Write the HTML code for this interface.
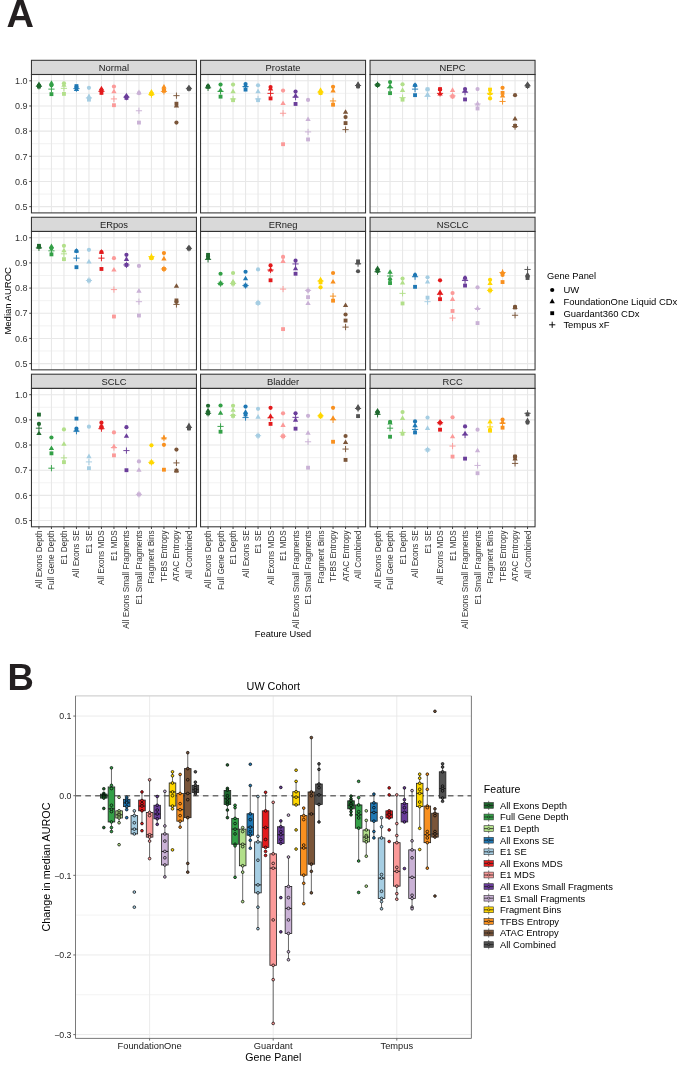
<!DOCTYPE html>
<html><head><meta charset="utf-8"><style>
html,body{margin:0;padding:0;background:#fff;}
svg{display:block;font-family:"Liberation Sans", sans-serif;will-change:transform;}
</style></head><body>
<svg width="685" height="1067" viewBox="0 0 685 1067">
<rect width="685" height="1067" fill="#fff"/>
<text x="6.6" y="26.6" font-size="38" font-weight="bold" fill="#231f20">A</text>
<rect x="31.45" y="74.5" width="165" height="138.4" fill="#fff"/>
<path d="M31.45 194.06H196.45M31.45 168.89H196.45M31.45 143.72H196.45M31.45 118.55H196.45M31.45 93.38H196.45" stroke="#ececec" stroke-width="0.7" fill="none"/>
<path d="M31.45 206.65H196.45M31.45 181.48H196.45M31.45 156.31H196.45M31.45 131.14H196.45M31.45 105.97H196.45M31.45 80.8H196.45M38.95 74.5V212.9M51.45 74.5V212.9M63.95 74.5V212.9M76.45 74.5V212.9M88.95 74.5V212.9M101.45 74.5V212.9M113.95 74.5V212.9M126.45 74.5V212.9M138.95 74.5V212.9M151.45 74.5V212.9M163.95 74.5V212.9M176.45 74.5V212.9M188.95 74.5V212.9" stroke="#e8e8e8" stroke-width="1.1" fill="none"/>
<circle cx="38.95" cy="85.58" r="2.1" fill="#20692f"/>
<path d="M38.95 81.52L36.3 86.11L41.6 86.11Z" fill="#20692f"/>
<rect x="37.03" y="84.66" width="3.85" height="3.85" fill="#20692f"/>
<path d="M35.85 86.34H42.05M38.95 83.24V89.44" stroke="#20692f" stroke-width="0.95" fill="none"/>
<circle cx="51.45" cy="85.33" r="2.1" fill="#33a047"/>
<path d="M51.45 80.26L48.8 84.85L54.1 84.85Z" fill="#33a047"/>
<rect x="49.53" y="92.22" width="3.85" height="3.85" fill="#33a047"/>
<path d="M48.35 89.11H54.55M51.45 86.01V92.21" stroke="#33a047" stroke-width="0.95" fill="none"/>
<circle cx="63.95" cy="83.32" r="2.1" fill="#b2df8a"/>
<path d="M63.95 82.27L61.3 86.86L66.6 86.86Z" fill="#b2df8a"/>
<rect x="62.03" y="91.96" width="3.85" height="3.85" fill="#b2df8a"/>
<path d="M60.85 88.35H67.05M63.95 85.25V91.45" stroke="#b2df8a" stroke-width="0.95" fill="none"/>
<circle cx="76.45" cy="87.09" r="2.1" fill="#1f78b4"/>
<path d="M76.45 86.3L73.8 90.89L79.1 90.89Z" fill="#1f78b4"/>
<rect x="74.53" y="84.16" width="3.85" height="3.85" fill="#1f78b4"/>
<path d="M73.35 88.6H79.55M76.45 85.5V91.7" stroke="#1f78b4" stroke-width="0.95" fill="none"/>
<circle cx="88.95" cy="87.85" r="2.1" fill="#a6cee3"/>
<path d="M88.95 93.6L86.3 98.19L91.6 98.19Z" fill="#a6cee3"/>
<rect x="87.03" y="97.75" width="3.85" height="3.85" fill="#a6cee3"/>
<path d="M85.85 97.92H92.05M88.95 94.82V101.02" stroke="#a6cee3" stroke-width="0.95" fill="none"/>
<circle cx="101.45" cy="90.11" r="2.1" fill="#e31a1c"/>
<path d="M101.45 85.79L98.8 90.38L104.1 90.38Z" fill="#e31a1c"/>
<rect x="99.53" y="90.96" width="3.85" height="3.85" fill="#e31a1c"/>
<path d="M98.35 91.37H104.55M101.45 88.27V94.47" stroke="#e31a1c" stroke-width="0.95" fill="none"/>
<circle cx="113.95" cy="86.59" r="2.1" fill="#fb9a99"/>
<path d="M113.95 88.56L111.3 93.15L116.6 93.15Z" fill="#fb9a99"/>
<rect x="112.03" y="103.29" width="3.85" height="3.85" fill="#fb9a99"/>
<path d="M110.85 98.92H117.05M113.95 95.82V102.02" stroke="#fb9a99" stroke-width="0.95" fill="none"/>
<circle cx="126.45" cy="96.66" r="2.1" fill="#6a3d9a"/>
<path d="M126.45 92.84L123.8 97.43L129.1 97.43Z" fill="#6a3d9a"/>
<rect x="124.53" y="95.99" width="3.85" height="3.85" fill="#6a3d9a"/>
<path d="M123.35 97.16H129.55M126.45 94.06V100.26" stroke="#6a3d9a" stroke-width="0.95" fill="none"/>
<circle cx="138.95" cy="93.13" r="2.1" fill="#cab2d6"/>
<path d="M138.95 89.57L136.3 94.16L141.6 94.16Z" fill="#cab2d6"/>
<rect x="137.02" y="120.66" width="3.85" height="3.85" fill="#cab2d6"/>
<path d="M135.85 110.75H142.05M138.95 107.65V113.85" stroke="#cab2d6" stroke-width="0.95" fill="none"/>
<circle cx="151.45" cy="93.89" r="2.1" fill="#ffd700"/>
<path d="M151.45 89.07L148.8 93.66L154.1 93.66Z" fill="#ffd700"/>
<rect x="149.52" y="91.96" width="3.85" height="3.85" fill="#ffd700"/>
<path d="M148.35 94.64H154.55M151.45 91.54V97.74" stroke="#ffd700" stroke-width="0.95" fill="none"/>
<circle cx="163.95" cy="89.61" r="2.1" fill="#f8901f"/>
<path d="M163.95 84.03L161.3 88.62L166.6 88.62Z" fill="#f8901f"/>
<rect x="162.02" y="88.94" width="3.85" height="3.85" fill="#f8901f"/>
<path d="M160.85 91.37H167.05M163.95 88.27V94.47" stroke="#f8901f" stroke-width="0.95" fill="none"/>
<circle cx="176.45" cy="122.58" r="2.1" fill="#7a5539"/>
<path d="M176.45 102.91L173.8 107.5L179.1 107.5Z" fill="#7a5539"/>
<rect x="174.52" y="101.78" width="3.85" height="3.85" fill="#7a5539"/>
<path d="M173.35 95.65H179.55M176.45 92.55V98.75" stroke="#7a5539" stroke-width="0.95" fill="none"/>
<circle cx="188.95" cy="88.35" r="2.1" fill="#525252"/>
<path d="M188.95 84.79L186.3 89.38L191.6 89.38Z" fill="#525252"/>
<rect x="187.02" y="86.93" width="3.85" height="3.85" fill="#525252"/>
<path d="M185.85 88.35H192.05M188.95 85.25V91.45" stroke="#525252" stroke-width="0.95" fill="none"/>
<rect x="31.45" y="60.3" width="165" height="14.2" fill="#d9d9d9" stroke="#333" stroke-width="1.05"/>
<text x="113.95" y="71.1" font-size="9.4" fill="#1a1a1a" text-anchor="middle">Normal</text>
<rect x="31.45" y="74.5" width="165" height="138.4" fill="none" stroke="#333" stroke-width="1.05"/>
<text x="27.4" y="209.85" font-size="9.0" fill="#333" text-anchor="end">0.5</text>
<text x="27.4" y="184.68" font-size="9.0" fill="#333" text-anchor="end">0.6</text>
<text x="27.4" y="159.51" font-size="9.0" fill="#333" text-anchor="end">0.7</text>
<text x="27.4" y="134.34" font-size="9.0" fill="#333" text-anchor="end">0.8</text>
<text x="27.4" y="109.17" font-size="9.0" fill="#333" text-anchor="end">0.9</text>
<text x="27.4" y="84" font-size="9.0" fill="#333" text-anchor="end">1.0</text>
<path d="M29.25 206.65H31.45M29.25 181.48H31.45M29.25 156.31H31.45M29.25 131.14H31.45M29.25 105.97H31.45M29.25 80.8H31.45" stroke="#333" stroke-width="0.9" fill="none"/>
<rect x="200.55" y="74.5" width="165" height="138.4" fill="#fff"/>
<path d="M200.55 194.06H365.55M200.55 168.89H365.55M200.55 143.72H365.55M200.55 118.55H365.55M200.55 93.38H365.55" stroke="#ececec" stroke-width="0.7" fill="none"/>
<path d="M200.55 206.65H365.55M200.55 181.48H365.55M200.55 156.31H365.55M200.55 131.14H365.55M200.55 105.97H365.55M200.55 80.8H365.55M208.05 74.5V212.9M220.55 74.5V212.9M233.05 74.5V212.9M245.55 74.5V212.9M258.05 74.5V212.9M270.55 74.5V212.9M283.05 74.5V212.9M295.55 74.5V212.9M308.05 74.5V212.9M320.55 74.5V212.9M333.05 74.5V212.9M345.55 74.5V212.9M358.05 74.5V212.9" stroke="#e8e8e8" stroke-width="1.1" fill="none"/>
<circle cx="208.05" cy="86.34" r="2.1" fill="#20692f"/>
<path d="M208.05 83.03L205.4 87.62L210.7 87.62Z" fill="#20692f"/>
<rect x="206.12" y="84.92" width="3.85" height="3.85" fill="#20692f"/>
<path d="M204.95 87.85H211.15M208.05 84.75V90.95" stroke="#20692f" stroke-width="0.95" fill="none"/>
<circle cx="220.55" cy="84.58" r="2.1" fill="#33a047"/>
<path d="M220.55 87.3L217.9 91.89L223.2 91.89Z" fill="#33a047"/>
<rect x="218.62" y="94.73" width="3.85" height="3.85" fill="#33a047"/>
<path d="M217.45 91.37H223.65M220.55 88.27V94.47" stroke="#33a047" stroke-width="0.95" fill="none"/>
<circle cx="233.05" cy="84.58" r="2.1" fill="#b2df8a"/>
<path d="M233.05 88.56L230.4 93.15L235.7 93.15Z" fill="#b2df8a"/>
<rect x="231.12" y="98.26" width="3.85" height="3.85" fill="#b2df8a"/>
<path d="M229.95 98.92H236.15M233.05 95.82V102.02" stroke="#b2df8a" stroke-width="0.95" fill="none"/>
<circle cx="245.55" cy="84.07" r="2.1" fill="#1f78b4"/>
<path d="M245.55 82.77L242.9 87.36L248.2 87.36Z" fill="#1f78b4"/>
<rect x="243.62" y="87.68" width="3.85" height="3.85" fill="#1f78b4"/>
<path d="M242.45 86.59H248.65M245.55 83.49V89.69" stroke="#1f78b4" stroke-width="0.95" fill="none"/>
<circle cx="258.05" cy="85.33" r="2.1" fill="#a6cee3"/>
<path d="M258.05 88.56L255.4 93.15L260.7 93.15Z" fill="#a6cee3"/>
<rect x="256.12" y="98.26" width="3.85" height="3.85" fill="#a6cee3"/>
<path d="M254.95 98.92H261.15M258.05 95.82V102.02" stroke="#a6cee3" stroke-width="0.95" fill="none"/>
<circle cx="270.55" cy="87.09" r="2.1" fill="#e31a1c"/>
<path d="M270.55 85.79L267.9 90.38L273.2 90.38Z" fill="#e31a1c"/>
<rect x="268.62" y="96.49" width="3.85" height="3.85" fill="#e31a1c"/>
<path d="M267.45 93.39H273.65M270.55 90.29V96.48" stroke="#e31a1c" stroke-width="0.95" fill="none"/>
<circle cx="283.05" cy="90.62" r="2.1" fill="#fb9a99"/>
<path d="M283.05 100.39L280.4 104.98L285.7 104.98Z" fill="#fb9a99"/>
<rect x="281.12" y="142.3" width="3.85" height="3.85" fill="#fb9a99"/>
<path d="M279.95 113.27H286.15M283.05 110.17V116.37" stroke="#fb9a99" stroke-width="0.95" fill="none"/>
<circle cx="295.55" cy="91.62" r="2.1" fill="#6a3d9a"/>
<path d="M295.55 92.84L292.9 97.43L298.2 97.43Z" fill="#6a3d9a"/>
<rect x="293.62" y="102.03" width="3.85" height="3.85" fill="#6a3d9a"/>
<path d="M292.45 97.16H298.65M295.55 94.06V100.26" stroke="#6a3d9a" stroke-width="0.95" fill="none"/>
<circle cx="308.05" cy="99.93" r="2.1" fill="#cab2d6"/>
<path d="M308.05 116.5L305.4 121.09L310.7 121.09Z" fill="#cab2d6"/>
<rect x="306.12" y="137.52" width="3.85" height="3.85" fill="#cab2d6"/>
<path d="M304.95 131.9H311.15M308.05 128.8V135" stroke="#cab2d6" stroke-width="0.95" fill="none"/>
<circle cx="320.55" cy="92.88" r="2.1" fill="#ffd700"/>
<path d="M320.55 87.3L317.9 91.89L323.2 91.89Z" fill="#ffd700"/>
<rect x="318.62" y="90.96" width="3.85" height="3.85" fill="#ffd700"/>
<path d="M317.45 92.13H323.65M320.55 89.03V95.23" stroke="#ffd700" stroke-width="0.95" fill="none"/>
<circle cx="333.05" cy="86.84" r="2.1" fill="#f8901f"/>
<path d="M333.05 87.81L330.4 92.4L335.7 92.4Z" fill="#f8901f"/>
<rect x="331.12" y="102.79" width="3.85" height="3.85" fill="#f8901f"/>
<path d="M329.95 100.94H336.15M333.05 97.84V104.04" stroke="#f8901f" stroke-width="0.95" fill="none"/>
<circle cx="345.55" cy="117.04" r="2.1" fill="#7a5539"/>
<path d="M345.55 109.2L342.9 113.79L348.2 113.79Z" fill="#7a5539"/>
<rect x="343.62" y="121.16" width="3.85" height="3.85" fill="#7a5539"/>
<path d="M342.45 129.63H348.65M345.55 126.53V132.73" stroke="#7a5539" stroke-width="0.95" fill="none"/>
<circle cx="358.05" cy="85.58" r="2.1" fill="#525252"/>
<path d="M358.05 81.26L355.4 85.85L360.7 85.85Z" fill="#525252"/>
<rect x="356.12" y="84.41" width="3.85" height="3.85" fill="#525252"/>
<path d="M354.95 85.58H361.15M358.05 82.48V88.68" stroke="#525252" stroke-width="0.95" fill="none"/>
<rect x="200.55" y="60.3" width="165" height="14.2" fill="#d9d9d9" stroke="#333" stroke-width="1.05"/>
<text x="283.05" y="71.1" font-size="9.4" fill="#1a1a1a" text-anchor="middle">Prostate</text>
<rect x="200.55" y="74.5" width="165" height="138.4" fill="none" stroke="#333" stroke-width="1.05"/>
<rect x="370.05" y="74.5" width="165" height="138.4" fill="#fff"/>
<path d="M370.05 194.06H535.05M370.05 168.89H535.05M370.05 143.72H535.05M370.05 118.55H535.05M370.05 93.38H535.05" stroke="#ececec" stroke-width="0.7" fill="none"/>
<path d="M370.05 206.65H535.05M370.05 181.48H535.05M370.05 156.31H535.05M370.05 131.14H535.05M370.05 105.97H535.05M370.05 80.8H535.05M377.55 74.5V212.9M390.05 74.5V212.9M402.55 74.5V212.9M415.05 74.5V212.9M427.55 74.5V212.9M440.05 74.5V212.9M452.55 74.5V212.9M465.05 74.5V212.9M477.55 74.5V212.9M490.05 74.5V212.9M502.55 74.5V212.9M515.05 74.5V212.9M527.55 74.5V212.9" stroke="#e8e8e8" stroke-width="1.1" fill="none"/>
<circle cx="377.55" cy="84.83" r="2.1" fill="#20692f"/>
<path d="M377.55 81.52L374.9 86.11L380.2 86.11Z" fill="#20692f"/>
<rect x="375.62" y="83.15" width="3.85" height="3.85" fill="#20692f"/>
<path d="M374.45 84.83H380.65M377.55 81.73V87.93" stroke="#20692f" stroke-width="0.95" fill="none"/>
<circle cx="390.05" cy="82.06" r="2.1" fill="#33a047"/>
<path d="M390.05 83.53L387.4 88.12L392.7 88.12Z" fill="#33a047"/>
<rect x="388.12" y="91.21" width="3.85" height="3.85" fill="#33a047"/>
<path d="M386.95 87.85H393.15M390.05 84.75V90.95" stroke="#33a047" stroke-width="0.95" fill="none"/>
<circle cx="402.55" cy="84.32" r="2.1" fill="#b2df8a"/>
<path d="M402.55 87.3L399.9 91.89L405.2 91.89Z" fill="#b2df8a"/>
<rect x="400.62" y="97.75" width="3.85" height="3.85" fill="#b2df8a"/>
<path d="M399.45 97.66H405.65M402.55 94.56V100.76" stroke="#b2df8a" stroke-width="0.95" fill="none"/>
<circle cx="415.05" cy="85.33" r="2.1" fill="#1f78b4"/>
<path d="M415.05 82.27L412.4 86.86L417.7 86.86Z" fill="#1f78b4"/>
<rect x="413.12" y="93.22" width="3.85" height="3.85" fill="#1f78b4"/>
<path d="M411.95 89.11H418.15M415.05 86.01V92.21" stroke="#1f78b4" stroke-width="0.95" fill="none"/>
<circle cx="427.55" cy="89.36" r="2.1" fill="#a6cee3"/>
<path d="M427.55 91.58L424.9 96.17L430.2 96.17Z" fill="#a6cee3"/>
<rect x="425.62" y="87.43" width="3.85" height="3.85" fill="#a6cee3"/>
<path d="M424.45 96.41H430.65M427.55 93.31V99.51" stroke="#a6cee3" stroke-width="0.95" fill="none"/>
<circle cx="440.05" cy="89.61" r="2.1" fill="#e31a1c"/>
<path d="M440.05 90.83L437.4 95.42L442.7 95.42Z" fill="#e31a1c"/>
<rect x="438.12" y="87.18" width="3.85" height="3.85" fill="#e31a1c"/>
<path d="M436.95 93.39H443.15M440.05 90.29V96.48" stroke="#e31a1c" stroke-width="0.95" fill="none"/>
<circle cx="452.55" cy="96.41" r="2.1" fill="#fb9a99"/>
<path d="M452.55 87.3L449.9 91.89L455.2 91.89Z" fill="#fb9a99"/>
<rect x="450.62" y="94.48" width="3.85" height="3.85" fill="#fb9a99"/>
<path d="M449.45 95.9H455.65M452.55 92.8V99" stroke="#fb9a99" stroke-width="0.95" fill="none"/>
<circle cx="465.05" cy="89.11" r="2.1" fill="#6a3d9a"/>
<path d="M465.05 87.81L462.4 92.4L467.7 92.4Z" fill="#6a3d9a"/>
<rect x="463.12" y="97.5" width="3.85" height="3.85" fill="#6a3d9a"/>
<path d="M461.95 92.13H468.15M465.05 89.03V95.23" stroke="#6a3d9a" stroke-width="0.95" fill="none"/>
<circle cx="477.55" cy="89.11" r="2.1" fill="#cab2d6"/>
<path d="M477.55 100.9L474.9 105.49L480.2 105.49Z" fill="#cab2d6"/>
<rect x="475.62" y="106.56" width="3.85" height="3.85" fill="#cab2d6"/>
<path d="M474.45 103.96H480.65M477.55 100.86V107.06" stroke="#cab2d6" stroke-width="0.95" fill="none"/>
<circle cx="490.05" cy="98.42" r="2.1" fill="#ffd700"/>
<path d="M490.05 90.33L487.4 94.91L492.7 94.91Z" fill="#ffd700"/>
<rect x="488.12" y="87.68" width="3.85" height="3.85" fill="#ffd700"/>
<path d="M486.95 93.39H493.15M490.05 90.29V96.48" stroke="#ffd700" stroke-width="0.95" fill="none"/>
<circle cx="502.55" cy="87.85" r="2.1" fill="#f8901f"/>
<path d="M502.55 92.84L499.9 97.43L505.2 97.43Z" fill="#f8901f"/>
<rect x="500.62" y="90.96" width="3.85" height="3.85" fill="#f8901f"/>
<path d="M499.45 101.44H505.65M502.55 98.34V104.54" stroke="#f8901f" stroke-width="0.95" fill="none"/>
<circle cx="515.05" cy="95.15" r="2.1" fill="#7a5539"/>
<path d="M515.05 116L512.4 120.59L517.7 120.59Z" fill="#7a5539"/>
<rect x="513.12" y="123.93" width="3.85" height="3.85" fill="#7a5539"/>
<path d="M511.95 126.61H518.15M515.05 123.51V129.71" stroke="#7a5539" stroke-width="0.95" fill="none"/>
<circle cx="527.55" cy="85.33" r="2.1" fill="#525252"/>
<path d="M527.55 81.26L524.9 85.85L530.2 85.85Z" fill="#525252"/>
<rect x="525.62" y="84.16" width="3.85" height="3.85" fill="#525252"/>
<path d="M524.45 85.83H530.65M527.55 82.73V88.93" stroke="#525252" stroke-width="0.95" fill="none"/>
<rect x="370.05" y="60.3" width="165" height="14.2" fill="#d9d9d9" stroke="#333" stroke-width="1.05"/>
<text x="452.55" y="71.1" font-size="9.4" fill="#1a1a1a" text-anchor="middle">NEPC</text>
<rect x="370.05" y="74.5" width="165" height="138.4" fill="none" stroke="#333" stroke-width="1.05"/>
<rect x="31.45" y="231.45" width="165" height="138.4" fill="#fff"/>
<path d="M31.45 351.01H196.45M31.45 325.84H196.45M31.45 300.68H196.45M31.45 275.5H196.45M31.45 250.33H196.45" stroke="#ececec" stroke-width="0.7" fill="none"/>
<path d="M31.45 363.6H196.45M31.45 338.43H196.45M31.45 313.26H196.45M31.45 288.09H196.45M31.45 262.92H196.45M31.45 237.75H196.45M38.95 231.45V369.85M51.45 231.45V369.85M63.95 231.45V369.85M76.45 231.45V369.85M88.95 231.45V369.85M101.45 231.45V369.85M113.95 231.45V369.85M126.45 231.45V369.85M138.95 231.45V369.85M151.45 231.45V369.85M163.95 231.45V369.85M176.45 231.45V369.85M188.95 231.45V369.85" stroke="#e8e8e8" stroke-width="1.1" fill="none"/>
<circle cx="38.95" cy="246.56" r="2.1" fill="#20692f"/>
<path d="M38.95 244.25L36.3 248.84L41.6 248.84Z" fill="#20692f"/>
<rect x="37.03" y="243.88" width="3.85" height="3.85" fill="#20692f"/>
<path d="M35.85 247.82H42.05M38.95 244.72V250.92" stroke="#20692f" stroke-width="0.95" fill="none"/>
<circle cx="51.45" cy="248.32" r="2.1" fill="#33a047"/>
<path d="M51.45 243.5L48.8 248.09L54.1 248.09Z" fill="#33a047"/>
<rect x="49.53" y="252.44" width="3.85" height="3.85" fill="#33a047"/>
<path d="M48.35 250.84H54.55M51.45 247.74V253.94" stroke="#33a047" stroke-width="0.95" fill="none"/>
<circle cx="63.95" cy="245.8" r="2.1" fill="#b2df8a"/>
<path d="M63.95 247.78L61.3 252.37L66.6 252.37Z" fill="#b2df8a"/>
<rect x="62.03" y="257.22" width="3.85" height="3.85" fill="#b2df8a"/>
<path d="M60.85 253.86H67.05M63.95 250.76V256.96" stroke="#b2df8a" stroke-width="0.95" fill="none"/>
<circle cx="76.45" cy="251.09" r="2.1" fill="#1f78b4"/>
<path d="M76.45 248.03L73.8 252.62L79.1 252.62Z" fill="#1f78b4"/>
<rect x="74.53" y="265.27" width="3.85" height="3.85" fill="#1f78b4"/>
<path d="M73.35 258.14H79.55M76.45 255.04V261.24" stroke="#1f78b4" stroke-width="0.95" fill="none"/>
<circle cx="88.95" cy="249.83" r="2.1" fill="#a6cee3"/>
<path d="M88.95 258.85L86.3 263.44L91.6 263.44Z" fill="#a6cee3"/>
<rect x="87.03" y="278.61" width="3.85" height="3.85" fill="#a6cee3"/>
<path d="M85.85 280.54H92.05M88.95 277.44V283.64" stroke="#a6cee3" stroke-width="0.95" fill="none"/>
<circle cx="101.45" cy="252.1" r="2.1" fill="#e31a1c"/>
<path d="M101.45 249.04L98.8 253.63L104.1 253.63Z" fill="#e31a1c"/>
<rect x="99.53" y="267.04" width="3.85" height="3.85" fill="#e31a1c"/>
<path d="M98.35 258.14H104.55M101.45 255.04V261.24" stroke="#e31a1c" stroke-width="0.95" fill="none"/>
<circle cx="113.95" cy="258.14" r="2.1" fill="#fb9a99"/>
<path d="M113.95 266.91L111.3 271.5L116.6 271.5Z" fill="#fb9a99"/>
<rect x="112.03" y="314.61" width="3.85" height="3.85" fill="#fb9a99"/>
<path d="M110.85 289.6H117.05M113.95 286.5V292.7" stroke="#fb9a99" stroke-width="0.95" fill="none"/>
<circle cx="126.45" cy="254.87" r="2.1" fill="#6a3d9a"/>
<path d="M126.45 256.34L123.8 260.93L129.1 260.93Z" fill="#6a3d9a"/>
<rect x="124.53" y="263.01" width="3.85" height="3.85" fill="#6a3d9a"/>
<path d="M123.35 264.93H129.55M126.45 261.83V268.03" stroke="#6a3d9a" stroke-width="0.95" fill="none"/>
<circle cx="138.95" cy="265.94" r="2.1" fill="#cab2d6"/>
<path d="M138.95 288.05L136.3 292.64L141.6 292.64Z" fill="#cab2d6"/>
<rect x="137.02" y="313.6" width="3.85" height="3.85" fill="#cab2d6"/>
<path d="M135.85 301.68H142.05M138.95 298.58V304.78" stroke="#cab2d6" stroke-width="0.95" fill="none"/>
<circle cx="151.45" cy="258.14" r="2.1" fill="#ffd700"/>
<path d="M151.45 253.57L148.8 258.16L154.1 258.16Z" fill="#ffd700"/>
<rect x="149.52" y="256.21" width="3.85" height="3.85" fill="#ffd700"/>
<path d="M148.35 256.63H154.55M151.45 253.53V259.73" stroke="#ffd700" stroke-width="0.95" fill="none"/>
<circle cx="163.95" cy="253.1" r="2.1" fill="#f8901f"/>
<path d="M163.95 255.83L161.3 260.42L166.6 260.42Z" fill="#f8901f"/>
<rect x="162.02" y="267.04" width="3.85" height="3.85" fill="#f8901f"/>
<path d="M160.85 268.96H167.05M163.95 265.86V272.06" stroke="#f8901f" stroke-width="0.95" fill="none"/>
<circle cx="176.45" cy="301.93" r="2.1" fill="#7a5539"/>
<path d="M176.45 283.27L173.8 287.86L179.1 287.86Z" fill="#7a5539"/>
<rect x="174.52" y="298.5" width="3.85" height="3.85" fill="#7a5539"/>
<path d="M173.35 304.45H179.55M176.45 301.35V307.55" stroke="#7a5539" stroke-width="0.95" fill="none"/>
<circle cx="188.95" cy="248.32" r="2.1" fill="#525252"/>
<path d="M188.95 244.76L186.3 249.35L191.6 249.35Z" fill="#525252"/>
<rect x="187.02" y="246.65" width="3.85" height="3.85" fill="#525252"/>
<path d="M185.85 248.32H192.05M188.95 245.22V251.42" stroke="#525252" stroke-width="0.95" fill="none"/>
<rect x="31.45" y="217.25" width="165" height="14.2" fill="#d9d9d9" stroke="#333" stroke-width="1.05"/>
<text x="113.95" y="228.05" font-size="9.4" fill="#1a1a1a" text-anchor="middle">ERpos</text>
<rect x="31.45" y="231.45" width="165" height="138.4" fill="none" stroke="#333" stroke-width="1.05"/>
<text x="27.4" y="366.8" font-size="9.0" fill="#333" text-anchor="end">0.5</text>
<text x="27.4" y="341.63" font-size="9.0" fill="#333" text-anchor="end">0.6</text>
<text x="27.4" y="316.46" font-size="9.0" fill="#333" text-anchor="end">0.7</text>
<text x="27.4" y="291.29" font-size="9.0" fill="#333" text-anchor="end">0.8</text>
<text x="27.4" y="266.12" font-size="9.0" fill="#333" text-anchor="end">0.9</text>
<text x="27.4" y="240.95" font-size="9.0" fill="#333" text-anchor="end">1.0</text>
<path d="M29.25 363.6H31.45M29.25 338.43H31.45M29.25 313.26H31.45M29.25 288.09H31.45M29.25 262.92H31.45M29.25 237.75H31.45" stroke="#333" stroke-width="0.9" fill="none"/>
<rect x="200.55" y="231.45" width="165" height="138.4" fill="#fff"/>
<path d="M200.55 351.01H365.55M200.55 325.84H365.55M200.55 300.68H365.55M200.55 275.5H365.55M200.55 250.33H365.55" stroke="#ececec" stroke-width="0.7" fill="none"/>
<path d="M200.55 363.6H365.55M200.55 338.43H365.55M200.55 313.26H365.55M200.55 288.09H365.55M200.55 262.92H365.55M200.55 237.75H365.55M208.05 231.45V369.85M220.55 231.45V369.85M233.05 231.45V369.85M245.55 231.45V369.85M258.05 231.45V369.85M270.55 231.45V369.85M283.05 231.45V369.85M295.55 231.45V369.85M308.05 231.45V369.85M320.55 231.45V369.85M333.05 231.45V369.85M345.55 231.45V369.85M358.05 231.45V369.85" stroke="#e8e8e8" stroke-width="1.1" fill="none"/>
<circle cx="208.05" cy="256.63" r="2.1" fill="#20692f"/>
<path d="M208.05 254.83L205.4 259.42L210.7 259.42Z" fill="#20692f"/>
<rect x="206.12" y="252.94" width="3.85" height="3.85" fill="#20692f"/>
<path d="M204.95 259.4H211.15M208.05 256.3V262.5" stroke="#20692f" stroke-width="0.95" fill="none"/>
<circle cx="220.55" cy="273.74" r="2.1" fill="#33a047"/>
<path d="M220.55 280.5L217.9 285.09L223.2 285.09Z" fill="#33a047"/>
<rect x="218.62" y="281.63" width="3.85" height="3.85" fill="#33a047"/>
<path d="M217.45 283.56H223.65M220.55 280.46V286.66" stroke="#33a047" stroke-width="0.95" fill="none"/>
<circle cx="233.05" cy="272.99" r="2.1" fill="#b2df8a"/>
<path d="M233.05 278.74L230.4 283.33L235.7 283.33Z" fill="#b2df8a"/>
<rect x="231.12" y="281.63" width="3.85" height="3.85" fill="#b2df8a"/>
<path d="M229.95 283.56H236.15M233.05 280.46V286.66" stroke="#b2df8a" stroke-width="0.95" fill="none"/>
<circle cx="245.55" cy="271.73" r="2.1" fill="#1f78b4"/>
<path d="M245.55 275.72L242.9 280.31L248.2 280.31Z" fill="#1f78b4"/>
<rect x="243.62" y="283.65" width="3.85" height="3.85" fill="#1f78b4"/>
<path d="M242.45 285.57H248.65M245.55 282.47V288.67" stroke="#1f78b4" stroke-width="0.95" fill="none"/>
<circle cx="258.05" cy="269.46" r="2.1" fill="#a6cee3"/>
<path d="M258.05 299.88L255.4 304.47L260.7 304.47Z" fill="#a6cee3"/>
<rect x="256.12" y="301.02" width="3.85" height="3.85" fill="#a6cee3"/>
<path d="M254.95 302.94H261.15M258.05 299.84V306.04" stroke="#a6cee3" stroke-width="0.95" fill="none"/>
<circle cx="270.55" cy="265.44" r="2.1" fill="#e31a1c"/>
<path d="M270.55 266.91L267.9 271.5L273.2 271.5Z" fill="#e31a1c"/>
<rect x="268.62" y="278.36" width="3.85" height="3.85" fill="#e31a1c"/>
<path d="M267.45 269.97H273.65M270.55 266.87V273.07" stroke="#e31a1c" stroke-width="0.95" fill="none"/>
<circle cx="283.05" cy="256.88" r="2.1" fill="#fb9a99"/>
<path d="M283.05 258.35L280.4 262.94L285.7 262.94Z" fill="#fb9a99"/>
<rect x="281.12" y="327.19" width="3.85" height="3.85" fill="#fb9a99"/>
<path d="M279.95 289.1H286.15M283.05 286V292.2" stroke="#fb9a99" stroke-width="0.95" fill="none"/>
<circle cx="295.55" cy="260.65" r="2.1" fill="#6a3d9a"/>
<path d="M295.55 265.65L292.9 270.24L298.2 270.24Z" fill="#6a3d9a"/>
<rect x="293.62" y="271.82" width="3.85" height="3.85" fill="#6a3d9a"/>
<path d="M292.45 263.93H298.65M295.55 260.83V267.03" stroke="#6a3d9a" stroke-width="0.95" fill="none"/>
<circle cx="308.05" cy="290.61" r="2.1" fill="#cab2d6"/>
<path d="M308.05 300.38L305.4 304.97L310.7 304.97Z" fill="#cab2d6"/>
<rect x="306.12" y="295.23" width="3.85" height="3.85" fill="#cab2d6"/>
<path d="M304.95 290.36H311.15M308.05 287.26V293.46" stroke="#cab2d6" stroke-width="0.95" fill="none"/>
<circle cx="320.55" cy="287.33" r="2.1" fill="#ffd700"/>
<path d="M320.55 276.72L317.9 281.31L323.2 281.31Z" fill="#ffd700"/>
<rect x="318.62" y="280.38" width="3.85" height="3.85" fill="#ffd700"/>
<path d="M317.45 281.04H323.65M320.55 277.94V284.14" stroke="#ffd700" stroke-width="0.95" fill="none"/>
<circle cx="333.05" cy="272.99" r="2.1" fill="#f8901f"/>
<path d="M333.05 278.99L330.4 283.58L335.7 283.58Z" fill="#f8901f"/>
<rect x="331.12" y="298.75" width="3.85" height="3.85" fill="#f8901f"/>
<path d="M329.95 296.14H336.15M333.05 293.04V299.24" stroke="#f8901f" stroke-width="0.95" fill="none"/>
<circle cx="345.55" cy="314.52" r="2.1" fill="#7a5539"/>
<path d="M345.55 302.4L342.9 306.99L348.2 306.99Z" fill="#7a5539"/>
<rect x="343.62" y="318.63" width="3.85" height="3.85" fill="#7a5539"/>
<path d="M342.45 327.1H348.65M345.55 324V330.2" stroke="#7a5539" stroke-width="0.95" fill="none"/>
<circle cx="358.05" cy="271.23" r="2.1" fill="#525252"/>
<path d="M358.05 259.86L355.4 264.45L360.7 264.45Z" fill="#525252"/>
<rect x="356.12" y="259.48" width="3.85" height="3.85" fill="#525252"/>
<path d="M354.95 263.68H361.15M358.05 260.58V266.78" stroke="#525252" stroke-width="0.95" fill="none"/>
<rect x="200.55" y="217.25" width="165" height="14.2" fill="#d9d9d9" stroke="#333" stroke-width="1.05"/>
<text x="283.05" y="228.05" font-size="9.4" fill="#1a1a1a" text-anchor="middle">ERneg</text>
<rect x="200.55" y="231.45" width="165" height="138.4" fill="none" stroke="#333" stroke-width="1.05"/>
<rect x="370.05" y="231.45" width="165" height="138.4" fill="#fff"/>
<path d="M370.05 351.01H535.05M370.05 325.84H535.05M370.05 300.68H535.05M370.05 275.5H535.05M370.05 250.33H535.05" stroke="#ececec" stroke-width="0.7" fill="none"/>
<path d="M370.05 363.6H535.05M370.05 338.43H535.05M370.05 313.26H535.05M370.05 288.09H535.05M370.05 262.92H535.05M370.05 237.75H535.05M377.55 231.45V369.85M390.05 231.45V369.85M402.55 231.45V369.85M415.05 231.45V369.85M427.55 231.45V369.85M440.05 231.45V369.85M452.55 231.45V369.85M465.05 231.45V369.85M477.55 231.45V369.85M490.05 231.45V369.85M502.55 231.45V369.85M515.05 231.45V369.85M527.55 231.45V369.85" stroke="#e8e8e8" stroke-width="1.1" fill="none"/>
<circle cx="377.55" cy="270.97" r="2.1" fill="#20692f"/>
<path d="M377.55 265.4L374.9 269.99L380.2 269.99Z" fill="#20692f"/>
<rect x="375.62" y="268.55" width="3.85" height="3.85" fill="#20692f"/>
<path d="M374.45 271.73H380.65M377.55 268.63V274.83" stroke="#20692f" stroke-width="0.95" fill="none"/>
<circle cx="390.05" cy="279.28" r="2.1" fill="#33a047"/>
<path d="M390.05 269.17L387.4 273.76L392.7 273.76Z" fill="#33a047"/>
<rect x="388.12" y="281.13" width="3.85" height="3.85" fill="#33a047"/>
<path d="M386.95 276.01H393.15M390.05 272.91V279.11" stroke="#33a047" stroke-width="0.95" fill="none"/>
<circle cx="402.55" cy="278.53" r="2.1" fill="#b2df8a"/>
<path d="M402.55 280L399.9 284.59L405.2 284.59Z" fill="#b2df8a"/>
<rect x="400.62" y="301.52" width="3.85" height="3.85" fill="#b2df8a"/>
<path d="M399.45 293.38H405.65M402.55 290.28V296.48" stroke="#b2df8a" stroke-width="0.95" fill="none"/>
<circle cx="415.05" cy="275" r="2.1" fill="#1f78b4"/>
<path d="M415.05 271.94L412.4 276.53L417.7 276.53Z" fill="#1f78b4"/>
<rect x="413.12" y="284.91" width="3.85" height="3.85" fill="#1f78b4"/>
<path d="M411.95 276.76H418.15M415.05 273.66V279.86" stroke="#1f78b4" stroke-width="0.95" fill="none"/>
<circle cx="427.55" cy="277.27" r="2.1" fill="#a6cee3"/>
<path d="M427.55 278.99L424.9 283.58L430.2 283.58Z" fill="#a6cee3"/>
<rect x="425.62" y="295.73" width="3.85" height="3.85" fill="#a6cee3"/>
<path d="M424.45 301.68H430.65M427.55 298.58V304.78" stroke="#a6cee3" stroke-width="0.95" fill="none"/>
<circle cx="440.05" cy="280.29" r="2.1" fill="#e31a1c"/>
<path d="M440.05 289.31L437.4 293.9L442.7 293.9Z" fill="#e31a1c"/>
<rect x="438.12" y="297.24" width="3.85" height="3.85" fill="#e31a1c"/>
<path d="M436.95 294.38H443.15M440.05 291.28V297.48" stroke="#e31a1c" stroke-width="0.95" fill="none"/>
<circle cx="452.55" cy="293.12" r="2.1" fill="#fb9a99"/>
<path d="M452.55 296.36L449.9 300.95L455.2 300.95Z" fill="#fb9a99"/>
<rect x="450.62" y="309.07" width="3.85" height="3.85" fill="#fb9a99"/>
<path d="M449.45 318.04H455.65M452.55 314.94V321.14" stroke="#fb9a99" stroke-width="0.95" fill="none"/>
<circle cx="465.05" cy="278.02" r="2.1" fill="#6a3d9a"/>
<path d="M465.05 274.96L462.4 279.55L467.7 279.55Z" fill="#6a3d9a"/>
<rect x="463.12" y="283.65" width="3.85" height="3.85" fill="#6a3d9a"/>
<path d="M461.95 280.54H468.15M465.05 277.44V283.64" stroke="#6a3d9a" stroke-width="0.95" fill="none"/>
<circle cx="477.55" cy="287.33" r="2.1" fill="#cab2d6"/>
<path d="M477.55 305.42L474.9 310.01L480.2 310.01Z" fill="#cab2d6"/>
<rect x="475.62" y="321.15" width="3.85" height="3.85" fill="#cab2d6"/>
<path d="M474.45 308.48H480.65M477.55 305.38V311.58" stroke="#cab2d6" stroke-width="0.95" fill="none"/>
<circle cx="490.05" cy="279.78" r="2.1" fill="#ffd700"/>
<path d="M490.05 280.5L487.4 285.09L492.7 285.09Z" fill="#ffd700"/>
<rect x="488.12" y="288.43" width="3.85" height="3.85" fill="#ffd700"/>
<path d="M486.95 290.36H493.15M490.05 287.26V293.46" stroke="#ffd700" stroke-width="0.95" fill="none"/>
<circle cx="502.55" cy="275" r="2.1" fill="#f8901f"/>
<path d="M502.55 269.42L499.9 274.01L505.2 274.01Z" fill="#f8901f"/>
<rect x="500.62" y="280.12" width="3.85" height="3.85" fill="#f8901f"/>
<path d="M499.45 272.48H505.65M502.55 269.38V275.58" stroke="#f8901f" stroke-width="0.95" fill="none"/>
<circle cx="515.05" cy="306.97" r="2.1" fill="#7a5539"/>
<path d="M515.05 304.41L512.4 309L517.7 309Z" fill="#7a5539"/>
<rect x="513.12" y="305.55" width="3.85" height="3.85" fill="#7a5539"/>
<path d="M511.95 315.27H518.15M515.05 312.17V318.37" stroke="#7a5539" stroke-width="0.95" fill="none"/>
<circle cx="527.55" cy="276.51" r="2.1" fill="#525252"/>
<path d="M527.55 271.69L524.9 276.28L530.2 276.28Z" fill="#525252"/>
<rect x="525.62" y="276.1" width="3.85" height="3.85" fill="#525252"/>
<path d="M524.45 269.46H530.65M527.55 266.36V272.56" stroke="#525252" stroke-width="0.95" fill="none"/>
<rect x="370.05" y="217.25" width="165" height="14.2" fill="#d9d9d9" stroke="#333" stroke-width="1.05"/>
<text x="452.55" y="228.05" font-size="9.4" fill="#1a1a1a" text-anchor="middle">NSCLC</text>
<rect x="370.05" y="231.45" width="165" height="138.4" fill="none" stroke="#333" stroke-width="1.05"/>
<rect x="31.45" y="388.4" width="165" height="138.4" fill="#fff"/>
<path d="M31.45 507.96H196.45M31.45 482.79H196.45M31.45 457.62H196.45M31.45 432.45H196.45M31.45 407.28H196.45" stroke="#ececec" stroke-width="0.7" fill="none"/>
<path d="M31.45 520.55H196.45M31.45 495.38H196.45M31.45 470.21H196.45M31.45 445.04H196.45M31.45 419.87H196.45M31.45 394.7H196.45M38.95 388.4V526.8M51.45 388.4V526.8M63.95 388.4V526.8M76.45 388.4V526.8M88.95 388.4V526.8M101.45 388.4V526.8M113.95 388.4V526.8M126.45 388.4V526.8M138.95 388.4V526.8M151.45 388.4V526.8M163.95 388.4V526.8M176.45 388.4V526.8M188.95 388.4V526.8" stroke="#e8e8e8" stroke-width="1.1" fill="none"/>
<circle cx="38.95" cy="423.9" r="2.1" fill="#20692f"/>
<path d="M38.95 430.4L36.3 434.99L41.6 434.99Z" fill="#20692f"/>
<rect x="37.03" y="412.66" width="3.85" height="3.85" fill="#20692f"/>
<path d="M35.85 428.18H42.05M38.95 425.08V431.28" stroke="#20692f" stroke-width="0.95" fill="none"/>
<circle cx="51.45" cy="437.49" r="2.1" fill="#33a047"/>
<path d="M51.45 445.5L48.8 450.09L54.1 450.09Z" fill="#33a047"/>
<rect x="49.53" y="451.42" width="3.85" height="3.85" fill="#33a047"/>
<path d="M48.35 468.2H54.55M51.45 465.1V471.3" stroke="#33a047" stroke-width="0.95" fill="none"/>
<circle cx="63.95" cy="429.43" r="2.1" fill="#b2df8a"/>
<path d="M63.95 441.22L61.3 445.81L66.6 445.81Z" fill="#b2df8a"/>
<rect x="62.03" y="460.23" width="3.85" height="3.85" fill="#b2df8a"/>
<path d="M60.85 457.88H67.05M63.95 454.78V460.98" stroke="#b2df8a" stroke-width="0.95" fill="none"/>
<circle cx="76.45" cy="428.68" r="2.1" fill="#1f78b4"/>
<path d="M76.45 426.88L73.8 431.47L79.1 431.47Z" fill="#1f78b4"/>
<rect x="74.53" y="416.69" width="3.85" height="3.85" fill="#1f78b4"/>
<path d="M73.35 431.2H79.55M76.45 428.1V434.3" stroke="#1f78b4" stroke-width="0.95" fill="none"/>
<circle cx="88.95" cy="426.67" r="2.1" fill="#a6cee3"/>
<path d="M88.95 453.56L86.3 458.15L91.6 458.15Z" fill="#a6cee3"/>
<rect x="87.03" y="466.27" width="3.85" height="3.85" fill="#a6cee3"/>
<path d="M85.85 461.9H92.05M88.95 458.8V465" stroke="#a6cee3" stroke-width="0.95" fill="none"/>
<circle cx="101.45" cy="422.64" r="2.1" fill="#e31a1c"/>
<path d="M101.45 423.1L98.8 427.69L104.1 427.69Z" fill="#e31a1c"/>
<rect x="99.53" y="425.5" width="3.85" height="3.85" fill="#e31a1c"/>
<path d="M98.35 428.68H104.55M101.45 425.58V431.78" stroke="#e31a1c" stroke-width="0.95" fill="none"/>
<circle cx="113.95" cy="432.45" r="2.1" fill="#fb9a99"/>
<path d="M113.95 443.74L111.3 448.33L116.6 448.33Z" fill="#fb9a99"/>
<rect x="112.03" y="453.43" width="3.85" height="3.85" fill="#fb9a99"/>
<path d="M110.85 447.56H117.05M113.95 444.46V450.66" stroke="#fb9a99" stroke-width="0.95" fill="none"/>
<circle cx="126.45" cy="427.17" r="2.1" fill="#6a3d9a"/>
<path d="M126.45 433.17L123.8 437.76L129.1 437.76Z" fill="#6a3d9a"/>
<rect x="124.53" y="468.28" width="3.85" height="3.85" fill="#6a3d9a"/>
<path d="M123.35 450.58H129.55M126.45 447.48V453.68" stroke="#6a3d9a" stroke-width="0.95" fill="none"/>
<circle cx="138.95" cy="461.4" r="2.1" fill="#cab2d6"/>
<path d="M138.95 467.15L136.3 471.74L141.6 471.74Z" fill="#cab2d6"/>
<rect x="137.02" y="492.45" width="3.85" height="3.85" fill="#cab2d6"/>
<path d="M135.85 494.37H142.05M138.95 491.27V497.47" stroke="#cab2d6" stroke-width="0.95" fill="none"/>
<circle cx="151.45" cy="445.29" r="2.1" fill="#ffd700"/>
<path d="M151.45 459.35L148.8 463.94L154.1 463.94Z" fill="#ffd700"/>
<rect x="149.52" y="460.48" width="3.85" height="3.85" fill="#ffd700"/>
<path d="M148.35 462.41H154.55M151.45 459.31V465.51" stroke="#ffd700" stroke-width="0.95" fill="none"/>
<circle cx="163.95" cy="444.79" r="2.1" fill="#f8901f"/>
<path d="M163.95 434.93L161.3 439.52L166.6 439.52Z" fill="#f8901f"/>
<rect x="162.02" y="467.78" width="3.85" height="3.85" fill="#f8901f"/>
<path d="M160.85 437.99H167.05M163.95 434.89V441.09" stroke="#f8901f" stroke-width="0.95" fill="none"/>
<circle cx="176.45" cy="449.57" r="2.1" fill="#7a5539"/>
<path d="M176.45 467.65L173.8 472.24L179.1 472.24Z" fill="#7a5539"/>
<rect x="174.52" y="468.79" width="3.85" height="3.85" fill="#7a5539"/>
<path d="M173.35 462.91H179.55M176.45 459.81V466.01" stroke="#7a5539" stroke-width="0.95" fill="none"/>
<circle cx="188.95" cy="427.67" r="2.1" fill="#525252"/>
<path d="M188.95 422.6L186.3 427.19L191.6 427.19Z" fill="#525252"/>
<rect x="187.02" y="426.5" width="3.85" height="3.85" fill="#525252"/>
<path d="M185.85 427.42H192.05M188.95 424.32V430.52" stroke="#525252" stroke-width="0.95" fill="none"/>
<rect x="31.45" y="374.2" width="165" height="14.2" fill="#d9d9d9" stroke="#333" stroke-width="1.05"/>
<text x="113.95" y="385" font-size="9.4" fill="#1a1a1a" text-anchor="middle">SCLC</text>
<rect x="31.45" y="388.4" width="165" height="138.4" fill="none" stroke="#333" stroke-width="1.05"/>
<text x="27.4" y="523.75" font-size="9.0" fill="#333" text-anchor="end">0.5</text>
<text x="27.4" y="498.58" font-size="9.0" fill="#333" text-anchor="end">0.6</text>
<text x="27.4" y="473.41" font-size="9.0" fill="#333" text-anchor="end">0.7</text>
<text x="27.4" y="448.24" font-size="9.0" fill="#333" text-anchor="end">0.8</text>
<text x="27.4" y="423.07" font-size="9.0" fill="#333" text-anchor="end">0.9</text>
<text x="27.4" y="397.9" font-size="9.0" fill="#333" text-anchor="end">1.0</text>
<path d="M29.25 520.55H31.45M29.25 495.38H31.45M29.25 470.21H31.45M29.25 445.04H31.45M29.25 419.87H31.45M29.25 394.7H31.45" stroke="#333" stroke-width="0.9" fill="none"/>
<text transform="translate(41.95 530.4) rotate(-90)" font-size="8.2" fill="#333" text-anchor="end">All Exons Depth</text>
<text transform="translate(54.45 530.4) rotate(-90)" font-size="8.2" fill="#333" text-anchor="end">Full Gene Depth</text>
<text transform="translate(66.95 530.4) rotate(-90)" font-size="8.2" fill="#333" text-anchor="end">E1 Depth</text>
<text transform="translate(79.45 530.4) rotate(-90)" font-size="8.2" fill="#333" text-anchor="end">All Exons SE</text>
<text transform="translate(91.95 530.4) rotate(-90)" font-size="8.2" fill="#333" text-anchor="end">E1 SE</text>
<text transform="translate(104.45 530.4) rotate(-90)" font-size="8.2" fill="#333" text-anchor="end">All Exons MDS</text>
<text transform="translate(116.95 530.4) rotate(-90)" font-size="8.2" fill="#333" text-anchor="end">E1 MDS</text>
<text transform="translate(129.45 530.4) rotate(-90)" font-size="8.2" fill="#333" text-anchor="end">All Exons Small Fragments</text>
<text transform="translate(141.95 530.4) rotate(-90)" font-size="8.2" fill="#333" text-anchor="end">E1 Small Fragments</text>
<text transform="translate(154.45 530.4) rotate(-90)" font-size="8.2" fill="#333" text-anchor="end">Fragment Bins</text>
<text transform="translate(166.95 530.4) rotate(-90)" font-size="8.2" fill="#333" text-anchor="end">TFBS Entropy</text>
<text transform="translate(179.45 530.4) rotate(-90)" font-size="8.2" fill="#333" text-anchor="end">ATAC Entropy</text>
<text transform="translate(191.95 530.4) rotate(-90)" font-size="8.2" fill="#333" text-anchor="end">All Combined</text>
<path d="M38.95 526.8V529M51.45 526.8V529M63.95 526.8V529M76.45 526.8V529M88.95 526.8V529M101.45 526.8V529M113.95 526.8V529M126.45 526.8V529M138.95 526.8V529M151.45 526.8V529M163.95 526.8V529M176.45 526.8V529M188.95 526.8V529" stroke="#333" stroke-width="0.9" fill="none"/>
<rect x="200.55" y="388.4" width="165" height="138.4" fill="#fff"/>
<path d="M200.55 507.96H365.55M200.55 482.79H365.55M200.55 457.62H365.55M200.55 432.45H365.55M200.55 407.28H365.55" stroke="#ececec" stroke-width="0.7" fill="none"/>
<path d="M200.55 520.55H365.55M200.55 495.38H365.55M200.55 470.21H365.55M200.55 445.04H365.55M200.55 419.87H365.55M200.55 394.7H365.55M208.05 388.4V526.8M220.55 388.4V526.8M233.05 388.4V526.8M245.55 388.4V526.8M258.05 388.4V526.8M270.55 388.4V526.8M283.05 388.4V526.8M295.55 388.4V526.8M308.05 388.4V526.8M320.55 388.4V526.8M333.05 388.4V526.8M345.55 388.4V526.8M358.05 388.4V526.8" stroke="#e8e8e8" stroke-width="1.1" fill="none"/>
<circle cx="208.05" cy="405.77" r="2.1" fill="#20692f"/>
<path d="M208.05 407.75L205.4 412.34L210.7 412.34Z" fill="#20692f"/>
<rect x="206.12" y="411.4" width="3.85" height="3.85" fill="#20692f"/>
<path d="M204.95 413.33H211.15M208.05 410.23V416.43" stroke="#20692f" stroke-width="0.95" fill="none"/>
<circle cx="220.55" cy="405.52" r="2.1" fill="#33a047"/>
<path d="M220.55 410.27L217.9 414.86L223.2 414.86Z" fill="#33a047"/>
<rect x="218.62" y="429.77" width="3.85" height="3.85" fill="#33a047"/>
<path d="M217.45 426.41H223.65M220.55 423.31V429.51" stroke="#33a047" stroke-width="0.95" fill="none"/>
<circle cx="233.05" cy="405.77" r="2.1" fill="#b2df8a"/>
<path d="M233.05 407.25L230.4 411.84L235.7 411.84Z" fill="#b2df8a"/>
<rect x="231.12" y="413.92" width="3.85" height="3.85" fill="#b2df8a"/>
<path d="M229.95 415.34H236.15M233.05 412.24V418.44" stroke="#b2df8a" stroke-width="0.95" fill="none"/>
<circle cx="245.55" cy="406.53" r="2.1" fill="#1f78b4"/>
<path d="M245.55 409.26L242.9 413.85L248.2 413.85Z" fill="#1f78b4"/>
<rect x="243.62" y="412.66" width="3.85" height="3.85" fill="#1f78b4"/>
<path d="M242.45 417.6H248.65M245.55 414.5V420.7" stroke="#1f78b4" stroke-width="0.95" fill="none"/>
<circle cx="258.05" cy="408.8" r="2.1" fill="#a6cee3"/>
<path d="M258.05 414.04L255.4 418.63L260.7 418.63Z" fill="#a6cee3"/>
<rect x="256.12" y="433.8" width="3.85" height="3.85" fill="#a6cee3"/>
<path d="M254.95 435.73H261.15M258.05 432.63V438.83" stroke="#a6cee3" stroke-width="0.95" fill="none"/>
<circle cx="270.55" cy="407.79" r="2.1" fill="#e31a1c"/>
<path d="M270.55 413.29L267.9 417.88L273.2 417.88Z" fill="#e31a1c"/>
<rect x="268.62" y="421.97" width="3.85" height="3.85" fill="#e31a1c"/>
<path d="M267.45 417.86H273.65M270.55 414.76V420.96" stroke="#e31a1c" stroke-width="0.95" fill="none"/>
<circle cx="283.05" cy="413.33" r="2.1" fill="#fb9a99"/>
<path d="M283.05 422.35L280.4 426.94L285.7 426.94Z" fill="#fb9a99"/>
<rect x="281.12" y="434.31" width="3.85" height="3.85" fill="#fb9a99"/>
<path d="M279.95 436.23H286.15M283.05 433.13V439.33" stroke="#fb9a99" stroke-width="0.95" fill="none"/>
<circle cx="295.55" cy="413.33" r="2.1" fill="#6a3d9a"/>
<path d="M295.55 417.06L292.9 421.65L298.2 421.65Z" fill="#6a3d9a"/>
<rect x="293.62" y="426.75" width="3.85" height="3.85" fill="#6a3d9a"/>
<path d="M292.45 417.35H298.65M295.55 414.25V420.45" stroke="#6a3d9a" stroke-width="0.95" fill="none"/>
<circle cx="308.05" cy="415.84" r="2.1" fill="#cab2d6"/>
<path d="M308.05 430.15L305.4 434.74L310.7 434.74Z" fill="#cab2d6"/>
<rect x="306.12" y="465.77" width="3.85" height="3.85" fill="#cab2d6"/>
<path d="M304.95 441.77H311.15M308.05 438.67V444.87" stroke="#cab2d6" stroke-width="0.95" fill="none"/>
<circle cx="320.55" cy="415.84" r="2.1" fill="#ffd700"/>
<path d="M320.55 411.78L317.9 416.37L323.2 416.37Z" fill="#ffd700"/>
<rect x="318.62" y="414.42" width="3.85" height="3.85" fill="#ffd700"/>
<path d="M317.45 415.84H323.65M320.55 412.74V418.94" stroke="#ffd700" stroke-width="0.95" fill="none"/>
<circle cx="333.05" cy="407.79" r="2.1" fill="#f8901f"/>
<path d="M333.05 415.3L330.4 419.89L335.7 419.89Z" fill="#f8901f"/>
<rect x="331.12" y="439.84" width="3.85" height="3.85" fill="#f8901f"/>
<path d="M329.95 419.87H336.15M333.05 416.77V422.97" stroke="#f8901f" stroke-width="0.95" fill="none"/>
<circle cx="345.55" cy="435.98" r="2.1" fill="#7a5539"/>
<path d="M345.55 439.46L342.9 444.05L348.2 444.05Z" fill="#7a5539"/>
<rect x="343.62" y="457.97" width="3.85" height="3.85" fill="#7a5539"/>
<path d="M342.45 449.07H348.65M345.55 445.97V452.17" stroke="#7a5539" stroke-width="0.95" fill="none"/>
<circle cx="358.05" cy="408.54" r="2.1" fill="#525252"/>
<path d="M358.05 403.97L355.4 408.56L360.7 408.56Z" fill="#525252"/>
<rect x="356.12" y="414.17" width="3.85" height="3.85" fill="#525252"/>
<path d="M354.95 408.54H361.15M358.05 405.44V411.64" stroke="#525252" stroke-width="0.95" fill="none"/>
<rect x="200.55" y="374.2" width="165" height="14.2" fill="#d9d9d9" stroke="#333" stroke-width="1.05"/>
<text x="283.05" y="385" font-size="9.4" fill="#1a1a1a" text-anchor="middle">Bladder</text>
<rect x="200.55" y="388.4" width="165" height="138.4" fill="none" stroke="#333" stroke-width="1.05"/>
<text transform="translate(211.05 530.4) rotate(-90)" font-size="8.2" fill="#333" text-anchor="end">All Exons Depth</text>
<text transform="translate(223.55 530.4) rotate(-90)" font-size="8.2" fill="#333" text-anchor="end">Full Gene Depth</text>
<text transform="translate(236.05 530.4) rotate(-90)" font-size="8.2" fill="#333" text-anchor="end">E1 Depth</text>
<text transform="translate(248.55 530.4) rotate(-90)" font-size="8.2" fill="#333" text-anchor="end">All Exons SE</text>
<text transform="translate(261.05 530.4) rotate(-90)" font-size="8.2" fill="#333" text-anchor="end">E1 SE</text>
<text transform="translate(273.55 530.4) rotate(-90)" font-size="8.2" fill="#333" text-anchor="end">All Exons MDS</text>
<text transform="translate(286.05 530.4) rotate(-90)" font-size="8.2" fill="#333" text-anchor="end">E1 MDS</text>
<text transform="translate(298.55 530.4) rotate(-90)" font-size="8.2" fill="#333" text-anchor="end">All Exons Small Fragments</text>
<text transform="translate(311.05 530.4) rotate(-90)" font-size="8.2" fill="#333" text-anchor="end">E1 Small Fragments</text>
<text transform="translate(323.55 530.4) rotate(-90)" font-size="8.2" fill="#333" text-anchor="end">Fragment Bins</text>
<text transform="translate(336.05 530.4) rotate(-90)" font-size="8.2" fill="#333" text-anchor="end">TFBS Entropy</text>
<text transform="translate(348.55 530.4) rotate(-90)" font-size="8.2" fill="#333" text-anchor="end">ATAC Entropy</text>
<text transform="translate(361.05 530.4) rotate(-90)" font-size="8.2" fill="#333" text-anchor="end">All Combined</text>
<path d="M208.05 526.8V529M220.55 526.8V529M233.05 526.8V529M245.55 526.8V529M258.05 526.8V529M270.55 526.8V529M283.05 526.8V529M295.55 526.8V529M308.05 526.8V529M320.55 526.8V529M333.05 526.8V529M345.55 526.8V529M358.05 526.8V529" stroke="#333" stroke-width="0.9" fill="none"/>
<rect x="370.05" y="388.4" width="165" height="138.4" fill="#fff"/>
<path d="M370.05 507.96H535.05M370.05 482.79H535.05M370.05 457.62H535.05M370.05 432.45H535.05M370.05 407.28H535.05" stroke="#ececec" stroke-width="0.7" fill="none"/>
<path d="M370.05 520.55H535.05M370.05 495.38H535.05M370.05 470.21H535.05M370.05 445.04H535.05M370.05 419.87H535.05M370.05 394.7H535.05M377.55 388.4V526.8M390.05 388.4V526.8M402.55 388.4V526.8M415.05 388.4V526.8M427.55 388.4V526.8M440.05 388.4V526.8M452.55 388.4V526.8M465.05 388.4V526.8M477.55 388.4V526.8M490.05 388.4V526.8M502.55 388.4V526.8M515.05 388.4V526.8M527.55 388.4V526.8" stroke="#e8e8e8" stroke-width="1.1" fill="none"/>
<circle cx="377.55" cy="412.32" r="2.1" fill="#20692f"/>
<path d="M377.55 408L374.9 412.59L380.2 412.59Z" fill="#20692f"/>
<rect x="375.62" y="410.9" width="3.85" height="3.85" fill="#20692f"/>
<path d="M374.45 414.33H380.65M377.55 411.23V417.43" stroke="#20692f" stroke-width="0.95" fill="none"/>
<circle cx="390.05" cy="421.88" r="2.1" fill="#33a047"/>
<path d="M390.05 419.83L387.4 424.42L392.7 424.42Z" fill="#33a047"/>
<rect x="388.12" y="434.81" width="3.85" height="3.85" fill="#33a047"/>
<path d="M386.95 428.18H393.15M390.05 425.08V431.28" stroke="#33a047" stroke-width="0.95" fill="none"/>
<circle cx="402.55" cy="412.07" r="2.1" fill="#b2df8a"/>
<path d="M402.55 415.3L399.9 419.89L405.2 419.89Z" fill="#b2df8a"/>
<rect x="400.62" y="431.79" width="3.85" height="3.85" fill="#b2df8a"/>
<path d="M399.45 432.45H405.65M402.55 429.35V435.56" stroke="#b2df8a" stroke-width="0.95" fill="none"/>
<circle cx="415.05" cy="421.38" r="2.1" fill="#1f78b4"/>
<path d="M415.05 422.6L412.4 427.19L417.7 427.19Z" fill="#1f78b4"/>
<rect x="413.12" y="430.53" width="3.85" height="3.85" fill="#1f78b4"/>
<path d="M411.95 429.43H418.15M415.05 426.33V432.53" stroke="#1f78b4" stroke-width="0.95" fill="none"/>
<circle cx="427.55" cy="417.6" r="2.1" fill="#a6cee3"/>
<path d="M427.55 425.37L424.9 429.96L430.2 429.96Z" fill="#a6cee3"/>
<rect x="425.62" y="447.9" width="3.85" height="3.85" fill="#a6cee3"/>
<path d="M424.45 449.82H430.65M427.55 446.72V452.92" stroke="#a6cee3" stroke-width="0.95" fill="none"/>
<circle cx="440.05" cy="422.64" r="2.1" fill="#e31a1c"/>
<path d="M440.05 419.58L437.4 424.17L442.7 424.17Z" fill="#e31a1c"/>
<rect x="438.12" y="427.76" width="3.85" height="3.85" fill="#e31a1c"/>
<path d="M436.95 422.64H443.15M440.05 419.54V425.74" stroke="#e31a1c" stroke-width="0.95" fill="none"/>
<circle cx="452.55" cy="417.35" r="2.1" fill="#fb9a99"/>
<path d="M452.55 433.67L449.9 438.26L455.2 438.26Z" fill="#fb9a99"/>
<rect x="450.62" y="454.69" width="3.85" height="3.85" fill="#fb9a99"/>
<path d="M449.45 446.05H455.65M452.55 442.95V449.15" stroke="#fb9a99" stroke-width="0.95" fill="none"/>
<circle cx="465.05" cy="426.41" r="2.1" fill="#6a3d9a"/>
<path d="M465.05 430.65L462.4 435.24L467.7 435.24Z" fill="#6a3d9a"/>
<rect x="463.12" y="456.71" width="3.85" height="3.85" fill="#6a3d9a"/>
<path d="M461.95 434.97H468.15M465.05 431.87V438.07" stroke="#6a3d9a" stroke-width="0.95" fill="none"/>
<circle cx="477.55" cy="429.69" r="2.1" fill="#cab2d6"/>
<path d="M477.55 447.77L474.9 452.36L480.2 452.36Z" fill="#cab2d6"/>
<rect x="475.62" y="471.31" width="3.85" height="3.85" fill="#cab2d6"/>
<path d="M474.45 465.43H480.65M477.55 462.33V468.53" stroke="#cab2d6" stroke-width="0.95" fill="none"/>
<circle cx="490.05" cy="429.94" r="2.1" fill="#ffd700"/>
<path d="M490.05 418.82L487.4 423.41L492.7 423.41Z" fill="#ffd700"/>
<rect x="488.12" y="428.77" width="3.85" height="3.85" fill="#ffd700"/>
<path d="M486.95 426.92H493.15M490.05 423.82V430.02" stroke="#ffd700" stroke-width="0.95" fill="none"/>
<circle cx="502.55" cy="419.62" r="2.1" fill="#f8901f"/>
<path d="M502.55 419.33L499.9 423.92L505.2 423.92Z" fill="#f8901f"/>
<rect x="500.62" y="425.75" width="3.85" height="3.85" fill="#f8901f"/>
<path d="M499.45 423.14H505.65M502.55 420.04V426.24" stroke="#f8901f" stroke-width="0.95" fill="none"/>
<circle cx="515.05" cy="456.62" r="2.1" fill="#7a5539"/>
<path d="M515.05 455.82L512.4 460.41L517.7 460.41Z" fill="#7a5539"/>
<rect x="513.12" y="454.69" width="3.85" height="3.85" fill="#7a5539"/>
<path d="M511.95 463.41H518.15M515.05 460.31V466.51" stroke="#7a5539" stroke-width="0.95" fill="none"/>
<circle cx="527.55" cy="422.64" r="2.1" fill="#525252"/>
<path d="M527.55 417.57L524.9 422.16L530.2 422.16Z" fill="#525252"/>
<rect x="525.62" y="412.41" width="3.85" height="3.85" fill="#525252"/>
<path d="M524.45 413.33H530.65M527.55 410.23V416.43" stroke="#525252" stroke-width="0.95" fill="none"/>
<rect x="370.05" y="374.2" width="165" height="14.2" fill="#d9d9d9" stroke="#333" stroke-width="1.05"/>
<text x="452.55" y="385" font-size="9.4" fill="#1a1a1a" text-anchor="middle">RCC</text>
<rect x="370.05" y="388.4" width="165" height="138.4" fill="none" stroke="#333" stroke-width="1.05"/>
<text transform="translate(380.55 530.4) rotate(-90)" font-size="8.2" fill="#333" text-anchor="end">All Exons Depth</text>
<text transform="translate(393.05 530.4) rotate(-90)" font-size="8.2" fill="#333" text-anchor="end">Full Gene Depth</text>
<text transform="translate(405.55 530.4) rotate(-90)" font-size="8.2" fill="#333" text-anchor="end">E1 Depth</text>
<text transform="translate(418.05 530.4) rotate(-90)" font-size="8.2" fill="#333" text-anchor="end">All Exons SE</text>
<text transform="translate(430.55 530.4) rotate(-90)" font-size="8.2" fill="#333" text-anchor="end">E1 SE</text>
<text transform="translate(443.05 530.4) rotate(-90)" font-size="8.2" fill="#333" text-anchor="end">All Exons MDS</text>
<text transform="translate(455.55 530.4) rotate(-90)" font-size="8.2" fill="#333" text-anchor="end">E1 MDS</text>
<text transform="translate(468.05 530.4) rotate(-90)" font-size="8.2" fill="#333" text-anchor="end">All Exons Small Fragments</text>
<text transform="translate(480.55 530.4) rotate(-90)" font-size="8.2" fill="#333" text-anchor="end">E1 Small Fragments</text>
<text transform="translate(493.05 530.4) rotate(-90)" font-size="8.2" fill="#333" text-anchor="end">Fragment Bins</text>
<text transform="translate(505.55 530.4) rotate(-90)" font-size="8.2" fill="#333" text-anchor="end">TFBS Entropy</text>
<text transform="translate(518.05 530.4) rotate(-90)" font-size="8.2" fill="#333" text-anchor="end">ATAC Entropy</text>
<text transform="translate(530.55 530.4) rotate(-90)" font-size="8.2" fill="#333" text-anchor="end">All Combined</text>
<path d="M377.55 526.8V529M390.05 526.8V529M402.55 526.8V529M415.05 526.8V529M427.55 526.8V529M440.05 526.8V529M452.55 526.8V529M465.05 526.8V529M477.55 526.8V529M490.05 526.8V529M502.55 526.8V529M515.05 526.8V529M527.55 526.8V529" stroke="#333" stroke-width="0.9" fill="none"/>
<text x="283" y="636.8" font-size="9.3" fill="#000" text-anchor="middle">Feature Used</text>
<text transform="translate(11.2 300.8) rotate(-90)" font-size="9.5" fill="#000" text-anchor="middle">Median AUROC</text>
<text x="547" y="278.6" font-size="9.3" fill="#000">Gene Panel</text>
<circle cx="552.2" cy="290" r="2.1" fill="#000"/>
<path d="M552.2 298.54L549.55 303.13L554.85 303.13Z" fill="#000"/>
<rect x="550.28" y="311.27" width="3.85" height="3.85" fill="#000"/>
<path d="M549.1 324.8H555.3M552.2 321.7V327.9" stroke="#000" stroke-width="0.95" fill="none"/>
<text x="563.4" y="293.3" font-size="9.45" fill="#000">UW</text>
<text x="563.4" y="304.9" font-size="9.45" fill="#000">FoundationOne Liquid CDx</text>
<text x="563.4" y="316.5" font-size="9.45" fill="#000">Guardant360 CDx</text>
<text x="563.4" y="328.1" font-size="9.45" fill="#000">Tempus xF</text>
<text x="7.5" y="689.9" font-size="36.5" font-weight="bold" fill="#231f20">B</text>
<text x="273.3" y="689.7" font-size="10.8" fill="#000" text-anchor="middle">UW Cohort</text>
<path d="M75.5 755.88H471.4M75.5 835.52H471.4M75.5 915.14H471.4M75.5 994.78H471.4" stroke="#f0f0f0" stroke-width="0.8" fill="none"/>
<path d="M75.5 716.07H471.4M75.5 795.7H471.4M75.5 875.33H471.4M75.5 954.96H471.4M75.5 1034.59H471.4M149.6 695.9V1038.4M273.2 695.9V1038.4M396.8 695.9V1038.4" stroke="#e9e9e9" stroke-width="0.9" fill="none"/>
<path d="M75.5 795.7H471.4" stroke="#6e6e6e" stroke-width="1.6" stroke-dasharray="5.6 4.2" fill="none"/>
<path d="M103.82 792.51V799.68" stroke="#444" stroke-width="0.8"/>
<rect x="100.52" y="794.11" width="6.6" height="3.98" fill="#20692f" stroke="#222" stroke-width="0.8"/>
<path d="M100.52 795.7H107.12" stroke="#222" stroke-width="1.0"/>
<circle cx="103.82" cy="788.77" r="1.35" fill="#20692f" stroke="#000" stroke-width="0.7"/>
<circle cx="103.82" cy="793.31" r="1.35" fill="#20692f" stroke="#000" stroke-width="0.7"/>
<circle cx="103.82" cy="794.9" r="1.35" fill="#20692f" stroke="#000" stroke-width="0.7"/>
<circle cx="103.82" cy="795.7" r="1.35" fill="#20692f" stroke="#000" stroke-width="0.7"/>
<circle cx="103.82" cy="796.5" r="1.35" fill="#20692f" stroke="#000" stroke-width="0.7"/>
<circle cx="103.82" cy="798.09" r="1.35" fill="#20692f" stroke="#000" stroke-width="0.7"/>
<circle cx="103.82" cy="808.44" r="1.35" fill="#20692f" stroke="#000" stroke-width="0.7"/>
<circle cx="103.82" cy="827.55" r="1.35" fill="#20692f" stroke="#000" stroke-width="0.7"/>
<path d="M111.45 767.83V831.53" stroke="#444" stroke-width="0.8"/>
<rect x="108.15" y="786.94" width="6.6" height="35.04" fill="#33a047" stroke="#222" stroke-width="0.8"/>
<path d="M108.15 808.84H114.75" stroke="#222" stroke-width="1.0"/>
<circle cx="111.45" cy="767.83" r="1.35" fill="#33a047" stroke="#000" stroke-width="0.7"/>
<circle cx="111.45" cy="785.35" r="1.35" fill="#33a047" stroke="#000" stroke-width="0.7"/>
<circle cx="111.45" cy="788.53" r="1.35" fill="#33a047" stroke="#000" stroke-width="0.7"/>
<circle cx="111.45" cy="805.26" r="1.35" fill="#33a047" stroke="#000" stroke-width="0.7"/>
<circle cx="111.45" cy="809.24" r="1.35" fill="#33a047" stroke="#000" stroke-width="0.7"/>
<circle cx="111.45" cy="811.63" r="1.35" fill="#33a047" stroke="#000" stroke-width="0.7"/>
<circle cx="111.45" cy="821.98" r="1.35" fill="#33a047" stroke="#000" stroke-width="0.7"/>
<circle cx="111.45" cy="827.55" r="1.35" fill="#33a047" stroke="#000" stroke-width="0.7"/>
<circle cx="111.45" cy="831.53" r="1.35" fill="#33a047" stroke="#000" stroke-width="0.7"/>
<path d="M119.08 810.83V822.77" stroke="#444" stroke-width="0.8"/>
<rect x="115.78" y="810.83" width="6.6" height="7.17" fill="#b2df8a" stroke="#222" stroke-width="0.8"/>
<path d="M115.78 814.81H122.38" stroke="#222" stroke-width="1.0"/>
<circle cx="119.08" cy="797.29" r="1.35" fill="#b2df8a" stroke="#000" stroke-width="0.7"/>
<circle cx="119.08" cy="810.83" r="1.35" fill="#b2df8a" stroke="#000" stroke-width="0.7"/>
<circle cx="119.08" cy="813.22" r="1.35" fill="#b2df8a" stroke="#000" stroke-width="0.7"/>
<circle cx="119.08" cy="814.81" r="1.35" fill="#b2df8a" stroke="#000" stroke-width="0.7"/>
<circle cx="119.08" cy="816.4" r="1.35" fill="#b2df8a" stroke="#000" stroke-width="0.7"/>
<circle cx="119.08" cy="818" r="1.35" fill="#b2df8a" stroke="#000" stroke-width="0.7"/>
<circle cx="119.08" cy="822.77" r="1.35" fill="#b2df8a" stroke="#000" stroke-width="0.7"/>
<circle cx="119.08" cy="844.67" r="1.35" fill="#b2df8a" stroke="#000" stroke-width="0.7"/>
<path d="M126.71 797.29V809.64" stroke="#444" stroke-width="0.8"/>
<rect x="123.41" y="799.28" width="6.6" height="7.33" fill="#1f78b4" stroke="#222" stroke-width="0.8"/>
<path d="M123.41 802.87H130.01" stroke="#222" stroke-width="1.0"/>
<circle cx="126.71" cy="797.29" r="1.35" fill="#1f78b4" stroke="#000" stroke-width="0.7"/>
<circle cx="126.71" cy="799.28" r="1.35" fill="#1f78b4" stroke="#000" stroke-width="0.7"/>
<circle cx="126.71" cy="801.27" r="1.35" fill="#1f78b4" stroke="#000" stroke-width="0.7"/>
<circle cx="126.71" cy="802.87" r="1.35" fill="#1f78b4" stroke="#000" stroke-width="0.7"/>
<circle cx="126.71" cy="806.61" r="1.35" fill="#1f78b4" stroke="#000" stroke-width="0.7"/>
<circle cx="126.71" cy="809.64" r="1.35" fill="#1f78b4" stroke="#000" stroke-width="0.7"/>
<circle cx="126.71" cy="817.68" r="1.35" fill="#1f78b4" stroke="#000" stroke-width="0.7"/>
<path d="M134.34 810.83V833.92" stroke="#444" stroke-width="0.8"/>
<rect x="131.04" y="815.61" width="6.6" height="18.31" fill="#a6cee3" stroke="#222" stroke-width="0.8"/>
<path d="M131.04 829.14H137.64" stroke="#222" stroke-width="1.0"/>
<circle cx="134.34" cy="810.83" r="1.35" fill="#a6cee3" stroke="#000" stroke-width="0.7"/>
<circle cx="134.34" cy="815.61" r="1.35" fill="#a6cee3" stroke="#000" stroke-width="0.7"/>
<circle cx="134.34" cy="822.77" r="1.35" fill="#a6cee3" stroke="#000" stroke-width="0.7"/>
<circle cx="134.34" cy="829.14" r="1.35" fill="#a6cee3" stroke="#000" stroke-width="0.7"/>
<circle cx="134.34" cy="833.92" r="1.35" fill="#a6cee3" stroke="#000" stroke-width="0.7"/>
<circle cx="134.34" cy="892.05" r="1.35" fill="#a6cee3" stroke="#000" stroke-width="0.7"/>
<circle cx="134.34" cy="907.18" r="1.35" fill="#a6cee3" stroke="#000" stroke-width="0.7"/>
<path d="M141.97 791.96V823.57" stroke="#444" stroke-width="0.8"/>
<rect x="138.67" y="800.08" width="6.6" height="10.75" fill="#e31a1c" stroke="#222" stroke-width="0.8"/>
<path d="M138.67 806.05H145.27" stroke="#222" stroke-width="1.0"/>
<circle cx="141.97" cy="791.96" r="1.35" fill="#e31a1c" stroke="#000" stroke-width="0.7"/>
<circle cx="141.97" cy="800.48" r="1.35" fill="#e31a1c" stroke="#000" stroke-width="0.7"/>
<circle cx="141.97" cy="803.66" r="1.35" fill="#e31a1c" stroke="#000" stroke-width="0.7"/>
<circle cx="141.97" cy="806.05" r="1.35" fill="#e31a1c" stroke="#000" stroke-width="0.7"/>
<circle cx="141.97" cy="810.83" r="1.35" fill="#e31a1c" stroke="#000" stroke-width="0.7"/>
<circle cx="141.97" cy="823.57" r="1.35" fill="#e31a1c" stroke="#000" stroke-width="0.7"/>
<circle cx="141.97" cy="830.74" r="1.35" fill="#e31a1c" stroke="#000" stroke-width="0.7"/>
<path d="M149.6 779.77V858.61" stroke="#444" stroke-width="0.8"/>
<rect x="146.3" y="812.42" width="6.6" height="24.69" fill="#fb9a99" stroke="#222" stroke-width="0.8"/>
<path d="M146.3 834.72H152.9" stroke="#222" stroke-width="1.0"/>
<circle cx="149.6" cy="779.77" r="1.35" fill="#fb9a99" stroke="#000" stroke-width="0.7"/>
<circle cx="149.6" cy="812.42" r="1.35" fill="#fb9a99" stroke="#000" stroke-width="0.7"/>
<circle cx="149.6" cy="815.61" r="1.35" fill="#fb9a99" stroke="#000" stroke-width="0.7"/>
<circle cx="149.6" cy="834.72" r="1.35" fill="#fb9a99" stroke="#000" stroke-width="0.7"/>
<circle cx="149.6" cy="837.11" r="1.35" fill="#fb9a99" stroke="#000" stroke-width="0.7"/>
<circle cx="149.6" cy="841.09" r="1.35" fill="#fb9a99" stroke="#000" stroke-width="0.7"/>
<circle cx="149.6" cy="858.61" r="1.35" fill="#fb9a99" stroke="#000" stroke-width="0.7"/>
<path d="M157.23 796.5V824.37" stroke="#444" stroke-width="0.8"/>
<rect x="153.93" y="805.26" width="6.6" height="13.54" fill="#6a3d9a" stroke="#222" stroke-width="0.8"/>
<path d="M153.93 814.01H160.53" stroke="#222" stroke-width="1.0"/>
<circle cx="157.23" cy="796.5" r="1.35" fill="#6a3d9a" stroke="#000" stroke-width="0.7"/>
<circle cx="157.23" cy="805.26" r="1.35" fill="#6a3d9a" stroke="#000" stroke-width="0.7"/>
<circle cx="157.23" cy="810.03" r="1.35" fill="#6a3d9a" stroke="#000" stroke-width="0.7"/>
<circle cx="157.23" cy="814.01" r="1.35" fill="#6a3d9a" stroke="#000" stroke-width="0.7"/>
<circle cx="157.23" cy="818.79" r="1.35" fill="#6a3d9a" stroke="#000" stroke-width="0.7"/>
<circle cx="157.23" cy="824.37" r="1.35" fill="#6a3d9a" stroke="#000" stroke-width="0.7"/>
<path d="M164.86 791.32V876.92" stroke="#444" stroke-width="0.8"/>
<rect x="161.56" y="833.92" width="6.6" height="31.06" fill="#cab2d6" stroke="#222" stroke-width="0.8"/>
<path d="M161.56 851.44H168.16" stroke="#222" stroke-width="1.0"/>
<circle cx="164.86" cy="791.32" r="1.35" fill="#cab2d6" stroke="#000" stroke-width="0.7"/>
<circle cx="164.86" cy="825.96" r="1.35" fill="#cab2d6" stroke="#000" stroke-width="0.7"/>
<circle cx="164.86" cy="833.92" r="1.35" fill="#cab2d6" stroke="#000" stroke-width="0.7"/>
<circle cx="164.86" cy="841.09" r="1.35" fill="#cab2d6" stroke="#000" stroke-width="0.7"/>
<circle cx="164.86" cy="851.44" r="1.35" fill="#cab2d6" stroke="#000" stroke-width="0.7"/>
<circle cx="164.86" cy="857.81" r="1.35" fill="#cab2d6" stroke="#000" stroke-width="0.7"/>
<circle cx="164.86" cy="864.98" r="1.35" fill="#cab2d6" stroke="#000" stroke-width="0.7"/>
<circle cx="164.86" cy="876.92" r="1.35" fill="#cab2d6" stroke="#000" stroke-width="0.7"/>
<path d="M172.49 771.81V808.84" stroke="#444" stroke-width="0.8"/>
<rect x="169.19" y="782.96" width="6.6" height="23.09" fill="#ffd700" stroke="#222" stroke-width="0.8"/>
<path d="M169.19 791.96H175.79" stroke="#222" stroke-width="1.0"/>
<circle cx="172.49" cy="771.81" r="1.35" fill="#ffd700" stroke="#000" stroke-width="0.7"/>
<circle cx="172.49" cy="775.79" r="1.35" fill="#ffd700" stroke="#000" stroke-width="0.7"/>
<circle cx="172.49" cy="782.96" r="1.35" fill="#ffd700" stroke="#000" stroke-width="0.7"/>
<circle cx="172.49" cy="791.96" r="1.35" fill="#ffd700" stroke="#000" stroke-width="0.7"/>
<circle cx="172.49" cy="795.7" r="1.35" fill="#ffd700" stroke="#000" stroke-width="0.7"/>
<circle cx="172.49" cy="806.05" r="1.35" fill="#ffd700" stroke="#000" stroke-width="0.7"/>
<circle cx="172.49" cy="808.84" r="1.35" fill="#ffd700" stroke="#000" stroke-width="0.7"/>
<circle cx="172.49" cy="849.85" r="1.35" fill="#ffd700" stroke="#000" stroke-width="0.7"/>
<path d="M180.12 774.44V827.15" stroke="#444" stroke-width="0.8"/>
<rect x="176.82" y="793.47" width="6.6" height="27.71" fill="#f8901f" stroke="#222" stroke-width="0.8"/>
<path d="M176.82 809.64H183.42" stroke="#222" stroke-width="1.0"/>
<circle cx="180.12" cy="774.44" r="1.35" fill="#f8901f" stroke="#000" stroke-width="0.7"/>
<circle cx="180.12" cy="793.47" r="1.35" fill="#f8901f" stroke="#000" stroke-width="0.7"/>
<circle cx="180.12" cy="803.66" r="1.35" fill="#f8901f" stroke="#000" stroke-width="0.7"/>
<circle cx="180.12" cy="809.64" r="1.35" fill="#f8901f" stroke="#000" stroke-width="0.7"/>
<circle cx="180.12" cy="815.61" r="1.35" fill="#f8901f" stroke="#000" stroke-width="0.7"/>
<circle cx="180.12" cy="821.18" r="1.35" fill="#f8901f" stroke="#000" stroke-width="0.7"/>
<circle cx="180.12" cy="827.15" r="1.35" fill="#f8901f" stroke="#000" stroke-width="0.7"/>
<path d="M187.75 752.7V872.14" stroke="#444" stroke-width="0.8"/>
<rect x="184.45" y="768.63" width="6.6" height="49.05" fill="#7a5539" stroke="#222" stroke-width="0.8"/>
<path d="M184.45 793.47H191.05" stroke="#222" stroke-width="1.0"/>
<circle cx="187.75" cy="752.7" r="1.35" fill="#7a5539" stroke="#000" stroke-width="0.7"/>
<circle cx="187.75" cy="768.63" r="1.35" fill="#7a5539" stroke="#000" stroke-width="0.7"/>
<circle cx="187.75" cy="779.77" r="1.35" fill="#7a5539" stroke="#000" stroke-width="0.7"/>
<circle cx="187.75" cy="793.47" r="1.35" fill="#7a5539" stroke="#000" stroke-width="0.7"/>
<circle cx="187.75" cy="799.68" r="1.35" fill="#7a5539" stroke="#000" stroke-width="0.7"/>
<circle cx="187.75" cy="817.68" r="1.35" fill="#7a5539" stroke="#000" stroke-width="0.7"/>
<circle cx="187.75" cy="863.39" r="1.35" fill="#7a5539" stroke="#000" stroke-width="0.7"/>
<circle cx="187.75" cy="872.14" r="1.35" fill="#7a5539" stroke="#000" stroke-width="0.7"/>
<path d="M195.38 782.16V794.11" stroke="#444" stroke-width="0.8"/>
<rect x="192.08" y="785.35" width="6.6" height="7.17" fill="#525252" stroke="#222" stroke-width="0.8"/>
<path d="M192.08 789.33H198.68" stroke="#222" stroke-width="1.0"/>
<circle cx="195.38" cy="771.81" r="1.35" fill="#525252" stroke="#000" stroke-width="0.7"/>
<circle cx="195.38" cy="782.16" r="1.35" fill="#525252" stroke="#000" stroke-width="0.7"/>
<circle cx="195.38" cy="785.35" r="1.35" fill="#525252" stroke="#000" stroke-width="0.7"/>
<circle cx="195.38" cy="787.74" r="1.35" fill="#525252" stroke="#000" stroke-width="0.7"/>
<circle cx="195.38" cy="790.13" r="1.35" fill="#525252" stroke="#000" stroke-width="0.7"/>
<circle cx="195.38" cy="792.51" r="1.35" fill="#525252" stroke="#000" stroke-width="0.7"/>
<circle cx="195.38" cy="794.11" r="1.35" fill="#525252" stroke="#000" stroke-width="0.7"/>
<path d="M227.42 788.37V817.68" stroke="#444" stroke-width="0.8"/>
<rect x="224.12" y="790.6" width="6.6" height="13.86" fill="#20692f" stroke="#222" stroke-width="0.8"/>
<path d="M224.12 798.65H230.72" stroke="#222" stroke-width="1.0"/>
<circle cx="227.42" cy="764.96" r="1.35" fill="#20692f" stroke="#000" stroke-width="0.7"/>
<circle cx="227.42" cy="788.37" r="1.35" fill="#20692f" stroke="#000" stroke-width="0.7"/>
<circle cx="227.42" cy="790.13" r="1.35" fill="#20692f" stroke="#000" stroke-width="0.7"/>
<circle cx="227.42" cy="795.7" r="1.35" fill="#20692f" stroke="#000" stroke-width="0.7"/>
<circle cx="227.42" cy="798.89" r="1.35" fill="#20692f" stroke="#000" stroke-width="0.7"/>
<circle cx="227.42" cy="802.07" r="1.35" fill="#20692f" stroke="#000" stroke-width="0.7"/>
<circle cx="227.42" cy="804.46" r="1.35" fill="#20692f" stroke="#000" stroke-width="0.7"/>
<circle cx="227.42" cy="810.03" r="1.35" fill="#20692f" stroke="#000" stroke-width="0.7"/>
<circle cx="227.42" cy="817.68" r="1.35" fill="#20692f" stroke="#000" stroke-width="0.7"/>
<path d="M235.05 805.26V877.32" stroke="#444" stroke-width="0.8"/>
<rect x="231.75" y="818.39" width="6.6" height="25.88" fill="#33a047" stroke="#222" stroke-width="0.8"/>
<path d="M231.75 829.14H238.35" stroke="#222" stroke-width="1.0"/>
<circle cx="235.05" cy="805.26" r="1.35" fill="#33a047" stroke="#000" stroke-width="0.7"/>
<circle cx="235.05" cy="807.64" r="1.35" fill="#33a047" stroke="#000" stroke-width="0.7"/>
<circle cx="235.05" cy="818.39" r="1.35" fill="#33a047" stroke="#000" stroke-width="0.7"/>
<circle cx="235.05" cy="823.57" r="1.35" fill="#33a047" stroke="#000" stroke-width="0.7"/>
<circle cx="235.05" cy="829.14" r="1.35" fill="#33a047" stroke="#000" stroke-width="0.7"/>
<circle cx="235.05" cy="833.92" r="1.35" fill="#33a047" stroke="#000" stroke-width="0.7"/>
<circle cx="235.05" cy="844.27" r="1.35" fill="#33a047" stroke="#000" stroke-width="0.7"/>
<circle cx="235.05" cy="845.87" r="1.35" fill="#33a047" stroke="#000" stroke-width="0.7"/>
<circle cx="235.05" cy="877.32" r="1.35" fill="#33a047" stroke="#000" stroke-width="0.7"/>
<path d="M242.68 827.55V901.61" stroke="#444" stroke-width="0.8"/>
<rect x="239.38" y="829.14" width="6.6" height="36.63" fill="#b2df8a" stroke="#222" stroke-width="0.8"/>
<path d="M239.38 844.27H245.98" stroke="#222" stroke-width="1.0"/>
<circle cx="242.68" cy="827.55" r="1.35" fill="#b2df8a" stroke="#000" stroke-width="0.7"/>
<circle cx="242.68" cy="831.53" r="1.35" fill="#b2df8a" stroke="#000" stroke-width="0.7"/>
<circle cx="242.68" cy="844.27" r="1.35" fill="#b2df8a" stroke="#000" stroke-width="0.7"/>
<circle cx="242.68" cy="846.66" r="1.35" fill="#b2df8a" stroke="#000" stroke-width="0.7"/>
<circle cx="242.68" cy="865.77" r="1.35" fill="#b2df8a" stroke="#000" stroke-width="0.7"/>
<circle cx="242.68" cy="872.14" r="1.35" fill="#b2df8a" stroke="#000" stroke-width="0.7"/>
<circle cx="242.68" cy="901.61" r="1.35" fill="#b2df8a" stroke="#000" stroke-width="0.7"/>
<path d="M250.31 785.51V848.26" stroke="#444" stroke-width="0.8"/>
<rect x="247.01" y="813.78" width="6.6" height="21.42" fill="#1f78b4" stroke="#222" stroke-width="0.8"/>
<path d="M247.01 827.15H253.61" stroke="#222" stroke-width="1.0"/>
<circle cx="250.31" cy="764.25" r="1.35" fill="#1f78b4" stroke="#000" stroke-width="0.7"/>
<circle cx="250.31" cy="785.51" r="1.35" fill="#1f78b4" stroke="#000" stroke-width="0.7"/>
<circle cx="250.31" cy="813.78" r="1.35" fill="#1f78b4" stroke="#000" stroke-width="0.7"/>
<circle cx="250.31" cy="819.59" r="1.35" fill="#1f78b4" stroke="#000" stroke-width="0.7"/>
<circle cx="250.31" cy="827.15" r="1.35" fill="#1f78b4" stroke="#000" stroke-width="0.7"/>
<circle cx="250.31" cy="831.53" r="1.35" fill="#1f78b4" stroke="#000" stroke-width="0.7"/>
<circle cx="250.31" cy="835.2" r="1.35" fill="#1f78b4" stroke="#000" stroke-width="0.7"/>
<circle cx="250.31" cy="840.29" r="1.35" fill="#1f78b4" stroke="#000" stroke-width="0.7"/>
<circle cx="250.31" cy="848.26" r="1.35" fill="#1f78b4" stroke="#000" stroke-width="0.7"/>
<path d="M257.94 796.5V928.68" stroke="#444" stroke-width="0.8"/>
<rect x="254.64" y="841.89" width="6.6" height="50.96" fill="#a6cee3" stroke="#222" stroke-width="0.8"/>
<path d="M254.64 884.89H261.24" stroke="#222" stroke-width="1.0"/>
<circle cx="257.94" cy="796.5" r="1.35" fill="#a6cee3" stroke="#000" stroke-width="0.7"/>
<circle cx="257.94" cy="836.31" r="1.35" fill="#a6cee3" stroke="#000" stroke-width="0.7"/>
<circle cx="257.94" cy="841.89" r="1.35" fill="#a6cee3" stroke="#000" stroke-width="0.7"/>
<circle cx="257.94" cy="860.2" r="1.35" fill="#a6cee3" stroke="#000" stroke-width="0.7"/>
<circle cx="257.94" cy="884.89" r="1.35" fill="#a6cee3" stroke="#000" stroke-width="0.7"/>
<circle cx="257.94" cy="892.85" r="1.35" fill="#a6cee3" stroke="#000" stroke-width="0.7"/>
<circle cx="257.94" cy="907.18" r="1.35" fill="#a6cee3" stroke="#000" stroke-width="0.7"/>
<circle cx="257.94" cy="928.68" r="1.35" fill="#a6cee3" stroke="#000" stroke-width="0.7"/>
<path d="M265.57 792.28V847.46" stroke="#444" stroke-width="0.8"/>
<rect x="262.27" y="810.83" width="6.6" height="36.63" fill="#e31a1c" stroke="#222" stroke-width="0.8"/>
<path d="M262.27 827.55H268.87" stroke="#222" stroke-width="1.0"/>
<circle cx="265.57" cy="792.28" r="1.35" fill="#e31a1c" stroke="#000" stroke-width="0.7"/>
<circle cx="265.57" cy="810.83" r="1.35" fill="#e31a1c" stroke="#000" stroke-width="0.7"/>
<circle cx="265.57" cy="827.55" r="1.35" fill="#e31a1c" stroke="#000" stroke-width="0.7"/>
<circle cx="265.57" cy="839.5" r="1.35" fill="#e31a1c" stroke="#000" stroke-width="0.7"/>
<circle cx="265.57" cy="847.46" r="1.35" fill="#e31a1c" stroke="#000" stroke-width="0.7"/>
<circle cx="265.57" cy="851.44" r="1.35" fill="#e31a1c" stroke="#000" stroke-width="0.7"/>
<circle cx="265.57" cy="855.42" r="1.35" fill="#e31a1c" stroke="#000" stroke-width="0.7"/>
<path d="M273.2 802.31V1023.44" stroke="#444" stroke-width="0.8"/>
<rect x="269.9" y="853.83" width="6.6" height="111.48" fill="#fb9a99" stroke="#222" stroke-width="0.8"/>
<path d="M269.9 868.16H276.5" stroke="#222" stroke-width="1.0"/>
<circle cx="273.2" cy="802.31" r="1.35" fill="#fb9a99" stroke="#000" stroke-width="0.7"/>
<circle cx="273.2" cy="853.83" r="1.35" fill="#fb9a99" stroke="#000" stroke-width="0.7"/>
<circle cx="273.2" cy="863.39" r="1.35" fill="#fb9a99" stroke="#000" stroke-width="0.7"/>
<circle cx="273.2" cy="868.16" r="1.35" fill="#fb9a99" stroke="#000" stroke-width="0.7"/>
<circle cx="273.2" cy="919.92" r="1.35" fill="#fb9a99" stroke="#000" stroke-width="0.7"/>
<circle cx="273.2" cy="965.31" r="1.35" fill="#fb9a99" stroke="#000" stroke-width="0.7"/>
<circle cx="273.2" cy="979.65" r="1.35" fill="#fb9a99" stroke="#000" stroke-width="0.7"/>
<circle cx="273.2" cy="1023.44" r="1.35" fill="#fb9a99" stroke="#000" stroke-width="0.7"/>
<path d="M280.83 820.94V843.48" stroke="#444" stroke-width="0.8"/>
<rect x="277.53" y="826.76" width="6.6" height="16.72" fill="#6a3d9a" stroke="#222" stroke-width="0.8"/>
<path d="M277.53 834.72H284.13" stroke="#222" stroke-width="1.0"/>
<circle cx="280.83" cy="787.42" r="1.35" fill="#6a3d9a" stroke="#000" stroke-width="0.7"/>
<circle cx="280.83" cy="820.94" r="1.35" fill="#6a3d9a" stroke="#000" stroke-width="0.7"/>
<circle cx="280.83" cy="826.76" r="1.35" fill="#6a3d9a" stroke="#000" stroke-width="0.7"/>
<circle cx="280.83" cy="831.53" r="1.35" fill="#6a3d9a" stroke="#000" stroke-width="0.7"/>
<circle cx="280.83" cy="834.72" r="1.35" fill="#6a3d9a" stroke="#000" stroke-width="0.7"/>
<circle cx="280.83" cy="839.5" r="1.35" fill="#6a3d9a" stroke="#000" stroke-width="0.7"/>
<circle cx="280.83" cy="843.48" r="1.35" fill="#6a3d9a" stroke="#000" stroke-width="0.7"/>
<circle cx="280.83" cy="897.63" r="1.35" fill="#6a3d9a" stroke="#000" stroke-width="0.7"/>
<circle cx="280.83" cy="931.87" r="1.35" fill="#6a3d9a" stroke="#000" stroke-width="0.7"/>
<path d="M288.46 857.02V959.74" stroke="#444" stroke-width="0.8"/>
<rect x="285.16" y="886.48" width="6.6" height="46.98" fill="#cab2d6" stroke="#222" stroke-width="0.8"/>
<path d="M285.16 908.38H291.76" stroke="#222" stroke-width="1.0"/>
<circle cx="288.46" cy="815.13" r="1.35" fill="#cab2d6" stroke="#000" stroke-width="0.7"/>
<circle cx="288.46" cy="857.02" r="1.35" fill="#cab2d6" stroke="#000" stroke-width="0.7"/>
<circle cx="288.46" cy="886.48" r="1.35" fill="#cab2d6" stroke="#000" stroke-width="0.7"/>
<circle cx="288.46" cy="897.63" r="1.35" fill="#cab2d6" stroke="#000" stroke-width="0.7"/>
<circle cx="288.46" cy="908.38" r="1.35" fill="#cab2d6" stroke="#000" stroke-width="0.7"/>
<circle cx="288.46" cy="919.92" r="1.35" fill="#cab2d6" stroke="#000" stroke-width="0.7"/>
<circle cx="288.46" cy="933.46" r="1.35" fill="#cab2d6" stroke="#000" stroke-width="0.7"/>
<circle cx="288.46" cy="951.77" r="1.35" fill="#cab2d6" stroke="#000" stroke-width="0.7"/>
<circle cx="288.46" cy="959.74" r="1.35" fill="#cab2d6" stroke="#000" stroke-width="0.7"/>
<path d="M296.09 781.37V804.94" stroke="#444" stroke-width="0.8"/>
<rect x="292.79" y="791.72" width="6.6" height="13.22" fill="#ffd700" stroke="#222" stroke-width="0.8"/>
<path d="M292.79 797.13H299.39" stroke="#222" stroke-width="1.0"/>
<circle cx="296.09" cy="770.22" r="1.35" fill="#ffd700" stroke="#000" stroke-width="0.7"/>
<circle cx="296.09" cy="781.37" r="1.35" fill="#ffd700" stroke="#000" stroke-width="0.7"/>
<circle cx="296.09" cy="791.72" r="1.35" fill="#ffd700" stroke="#000" stroke-width="0.7"/>
<circle cx="296.09" cy="797.13" r="1.35" fill="#ffd700" stroke="#000" stroke-width="0.7"/>
<circle cx="296.09" cy="804.94" r="1.35" fill="#ffd700" stroke="#000" stroke-width="0.7"/>
<circle cx="296.09" cy="829.94" r="1.35" fill="#ffd700" stroke="#000" stroke-width="0.7"/>
<circle cx="296.09" cy="849.05" r="1.35" fill="#ffd700" stroke="#000" stroke-width="0.7"/>
<path d="M303.72 808.12V903.68" stroke="#444" stroke-width="0.8"/>
<rect x="300.42" y="815.61" width="6.6" height="59.56" fill="#f8901f" stroke="#222" stroke-width="0.8"/>
<path d="M300.42 848.02H307.02" stroke="#222" stroke-width="1.0"/>
<circle cx="303.72" cy="808.12" r="1.35" fill="#f8901f" stroke="#000" stroke-width="0.7"/>
<circle cx="303.72" cy="815.61" r="1.35" fill="#f8901f" stroke="#000" stroke-width="0.7"/>
<circle cx="303.72" cy="819.59" r="1.35" fill="#f8901f" stroke="#000" stroke-width="0.7"/>
<circle cx="303.72" cy="845.07" r="1.35" fill="#f8901f" stroke="#000" stroke-width="0.7"/>
<circle cx="303.72" cy="848.02" r="1.35" fill="#f8901f" stroke="#000" stroke-width="0.7"/>
<circle cx="303.72" cy="875.17" r="1.35" fill="#f8901f" stroke="#000" stroke-width="0.7"/>
<circle cx="303.72" cy="883.29" r="1.35" fill="#f8901f" stroke="#000" stroke-width="0.7"/>
<circle cx="303.72" cy="903.68" r="1.35" fill="#f8901f" stroke="#000" stroke-width="0.7"/>
<path d="M311.35 737.57V892.85" stroke="#444" stroke-width="0.8"/>
<rect x="308.05" y="791.96" width="6.6" height="72.22" fill="#7a5539" stroke="#222" stroke-width="0.8"/>
<path d="M308.05 814.01H314.65" stroke="#222" stroke-width="1.0"/>
<circle cx="311.35" cy="737.57" r="1.35" fill="#7a5539" stroke="#000" stroke-width="0.7"/>
<circle cx="311.35" cy="791.96" r="1.35" fill="#7a5539" stroke="#000" stroke-width="0.7"/>
<circle cx="311.35" cy="795.7" r="1.35" fill="#7a5539" stroke="#000" stroke-width="0.7"/>
<circle cx="311.35" cy="814.01" r="1.35" fill="#7a5539" stroke="#000" stroke-width="0.7"/>
<circle cx="311.35" cy="864.18" r="1.35" fill="#7a5539" stroke="#000" stroke-width="0.7"/>
<circle cx="311.35" cy="871.35" r="1.35" fill="#7a5539" stroke="#000" stroke-width="0.7"/>
<circle cx="311.35" cy="892.85" r="1.35" fill="#7a5539" stroke="#000" stroke-width="0.7"/>
<path d="M318.98 763.85V821.98" stroke="#444" stroke-width="0.8"/>
<rect x="315.68" y="783.99" width="6.6" height="20.46" fill="#525252" stroke="#222" stroke-width="0.8"/>
<path d="M315.68 794.9H322.28" stroke="#222" stroke-width="1.0"/>
<circle cx="318.98" cy="763.85" r="1.35" fill="#525252" stroke="#000" stroke-width="0.7"/>
<circle cx="318.98" cy="769.42" r="1.35" fill="#525252" stroke="#000" stroke-width="0.7"/>
<circle cx="318.98" cy="783.99" r="1.35" fill="#525252" stroke="#000" stroke-width="0.7"/>
<circle cx="318.98" cy="787.74" r="1.35" fill="#525252" stroke="#000" stroke-width="0.7"/>
<circle cx="318.98" cy="794.9" r="1.35" fill="#525252" stroke="#000" stroke-width="0.7"/>
<circle cx="318.98" cy="804.46" r="1.35" fill="#525252" stroke="#000" stroke-width="0.7"/>
<circle cx="318.98" cy="821.98" r="1.35" fill="#525252" stroke="#000" stroke-width="0.7"/>
<path d="M351.02 796.1V814.81" stroke="#444" stroke-width="0.8"/>
<rect x="347.72" y="800.8" width="6.6" height="8.04" fill="#20692f" stroke="#222" stroke-width="0.8"/>
<path d="M347.72 805.26H354.32" stroke="#222" stroke-width="1.0"/>
<circle cx="351.02" cy="796.1" r="1.35" fill="#20692f" stroke="#000" stroke-width="0.7"/>
<circle cx="351.02" cy="798.89" r="1.35" fill="#20692f" stroke="#000" stroke-width="0.7"/>
<circle cx="351.02" cy="800.8" r="1.35" fill="#20692f" stroke="#000" stroke-width="0.7"/>
<circle cx="351.02" cy="803.66" r="1.35" fill="#20692f" stroke="#000" stroke-width="0.7"/>
<circle cx="351.02" cy="805.26" r="1.35" fill="#20692f" stroke="#000" stroke-width="0.7"/>
<circle cx="351.02" cy="808.84" r="1.35" fill="#20692f" stroke="#000" stroke-width="0.7"/>
<circle cx="351.02" cy="811.63" r="1.35" fill="#20692f" stroke="#000" stroke-width="0.7"/>
<circle cx="351.02" cy="814.81" r="1.35" fill="#20692f" stroke="#000" stroke-width="0.7"/>
<path d="M358.65 797.61V861" stroke="#444" stroke-width="0.8"/>
<rect x="355.35" y="804.94" width="6.6" height="23.25" fill="#33a047" stroke="#222" stroke-width="0.8"/>
<path d="M355.35 814.81H361.95" stroke="#222" stroke-width="1.0"/>
<circle cx="358.65" cy="781.37" r="1.35" fill="#33a047" stroke="#000" stroke-width="0.7"/>
<circle cx="358.65" cy="797.61" r="1.35" fill="#33a047" stroke="#000" stroke-width="0.7"/>
<circle cx="358.65" cy="804.94" r="1.35" fill="#33a047" stroke="#000" stroke-width="0.7"/>
<circle cx="358.65" cy="811.63" r="1.35" fill="#33a047" stroke="#000" stroke-width="0.7"/>
<circle cx="358.65" cy="814.81" r="1.35" fill="#33a047" stroke="#000" stroke-width="0.7"/>
<circle cx="358.65" cy="818" r="1.35" fill="#33a047" stroke="#000" stroke-width="0.7"/>
<circle cx="358.65" cy="828.19" r="1.35" fill="#33a047" stroke="#000" stroke-width="0.7"/>
<circle cx="358.65" cy="861" r="1.35" fill="#33a047" stroke="#000" stroke-width="0.7"/>
<circle cx="358.65" cy="892.45" r="1.35" fill="#33a047" stroke="#000" stroke-width="0.7"/>
<path d="M366.28 820.39V856.22" stroke="#444" stroke-width="0.8"/>
<rect x="362.98" y="829.94" width="6.6" height="11.94" fill="#b2df8a" stroke="#222" stroke-width="0.8"/>
<path d="M362.98 837.11H369.58" stroke="#222" stroke-width="1.0"/>
<circle cx="366.28" cy="810.83" r="1.35" fill="#b2df8a" stroke="#000" stroke-width="0.7"/>
<circle cx="366.28" cy="820.39" r="1.35" fill="#b2df8a" stroke="#000" stroke-width="0.7"/>
<circle cx="366.28" cy="829.94" r="1.35" fill="#b2df8a" stroke="#000" stroke-width="0.7"/>
<circle cx="366.28" cy="835.52" r="1.35" fill="#b2df8a" stroke="#000" stroke-width="0.7"/>
<circle cx="366.28" cy="837.11" r="1.35" fill="#b2df8a" stroke="#000" stroke-width="0.7"/>
<circle cx="366.28" cy="839.5" r="1.35" fill="#b2df8a" stroke="#000" stroke-width="0.7"/>
<circle cx="366.28" cy="841.89" r="1.35" fill="#b2df8a" stroke="#000" stroke-width="0.7"/>
<circle cx="366.28" cy="856.22" r="1.35" fill="#b2df8a" stroke="#000" stroke-width="0.7"/>
<circle cx="366.28" cy="886.16" r="1.35" fill="#b2df8a" stroke="#000" stroke-width="0.7"/>
<path d="M373.91 794.11V837.9" stroke="#444" stroke-width="0.8"/>
<rect x="370.61" y="802.87" width="6.6" height="18.31" fill="#1f78b4" stroke="#222" stroke-width="0.8"/>
<path d="M370.61 812.42H377.21" stroke="#222" stroke-width="1.0"/>
<circle cx="373.91" cy="794.11" r="1.35" fill="#1f78b4" stroke="#000" stroke-width="0.7"/>
<circle cx="373.91" cy="802.87" r="1.35" fill="#1f78b4" stroke="#000" stroke-width="0.7"/>
<circle cx="373.91" cy="807.64" r="1.35" fill="#1f78b4" stroke="#000" stroke-width="0.7"/>
<circle cx="373.91" cy="812.42" r="1.35" fill="#1f78b4" stroke="#000" stroke-width="0.7"/>
<circle cx="373.91" cy="821.18" r="1.35" fill="#1f78b4" stroke="#000" stroke-width="0.7"/>
<circle cx="373.91" cy="831.53" r="1.35" fill="#1f78b4" stroke="#000" stroke-width="0.7"/>
<circle cx="373.91" cy="837.9" r="1.35" fill="#1f78b4" stroke="#000" stroke-width="0.7"/>
<path d="M381.54 817.68V908.77" stroke="#444" stroke-width="0.8"/>
<rect x="378.24" y="837.9" width="6.6" height="60.52" fill="#a6cee3" stroke="#222" stroke-width="0.8"/>
<path d="M378.24 878.12H384.84" stroke="#222" stroke-width="1.0"/>
<circle cx="381.54" cy="817.68" r="1.35" fill="#a6cee3" stroke="#000" stroke-width="0.7"/>
<circle cx="381.54" cy="826.76" r="1.35" fill="#a6cee3" stroke="#000" stroke-width="0.7"/>
<circle cx="381.54" cy="837.9" r="1.35" fill="#a6cee3" stroke="#000" stroke-width="0.7"/>
<circle cx="381.54" cy="874.53" r="1.35" fill="#a6cee3" stroke="#000" stroke-width="0.7"/>
<circle cx="381.54" cy="878.12" r="1.35" fill="#a6cee3" stroke="#000" stroke-width="0.7"/>
<circle cx="381.54" cy="891.26" r="1.35" fill="#a6cee3" stroke="#000" stroke-width="0.7"/>
<circle cx="381.54" cy="898.42" r="1.35" fill="#a6cee3" stroke="#000" stroke-width="0.7"/>
<circle cx="381.54" cy="901.61" r="1.35" fill="#a6cee3" stroke="#000" stroke-width="0.7"/>
<circle cx="381.54" cy="908.77" r="1.35" fill="#a6cee3" stroke="#000" stroke-width="0.7"/>
<path d="M389.17 810.83V818" stroke="#444" stroke-width="0.8"/>
<rect x="385.87" y="810.83" width="6.6" height="7.17" fill="#e31a1c" stroke="#222" stroke-width="0.8"/>
<path d="M385.87 814.81H392.47" stroke="#222" stroke-width="1.0"/>
<circle cx="389.17" cy="787.9" r="1.35" fill="#e31a1c" stroke="#000" stroke-width="0.7"/>
<circle cx="389.17" cy="794.9" r="1.35" fill="#e31a1c" stroke="#000" stroke-width="0.7"/>
<circle cx="389.17" cy="810.83" r="1.35" fill="#e31a1c" stroke="#000" stroke-width="0.7"/>
<circle cx="389.17" cy="813.22" r="1.35" fill="#e31a1c" stroke="#000" stroke-width="0.7"/>
<circle cx="389.17" cy="814.81" r="1.35" fill="#e31a1c" stroke="#000" stroke-width="0.7"/>
<circle cx="389.17" cy="818" r="1.35" fill="#e31a1c" stroke="#000" stroke-width="0.7"/>
<circle cx="389.17" cy="829.94" r="1.35" fill="#e31a1c" stroke="#000" stroke-width="0.7"/>
<circle cx="389.17" cy="841.49" r="1.35" fill="#e31a1c" stroke="#000" stroke-width="0.7"/>
<path d="M396.8 794.9V899.22" stroke="#444" stroke-width="0.8"/>
<rect x="393.5" y="842.68" width="6.6" height="43.48" fill="#fb9a99" stroke="#222" stroke-width="0.8"/>
<path d="M393.5 871.35H400.1" stroke="#222" stroke-width="1.0"/>
<circle cx="396.8" cy="794.9" r="1.35" fill="#fb9a99" stroke="#000" stroke-width="0.7"/>
<circle cx="396.8" cy="823.57" r="1.35" fill="#fb9a99" stroke="#000" stroke-width="0.7"/>
<circle cx="396.8" cy="835.52" r="1.35" fill="#fb9a99" stroke="#000" stroke-width="0.7"/>
<circle cx="396.8" cy="842.68" r="1.35" fill="#fb9a99" stroke="#000" stroke-width="0.7"/>
<circle cx="396.8" cy="867.37" r="1.35" fill="#fb9a99" stroke="#000" stroke-width="0.7"/>
<circle cx="396.8" cy="871.35" r="1.35" fill="#fb9a99" stroke="#000" stroke-width="0.7"/>
<circle cx="396.8" cy="886.16" r="1.35" fill="#fb9a99" stroke="#000" stroke-width="0.7"/>
<circle cx="396.8" cy="893.64" r="1.35" fill="#fb9a99" stroke="#000" stroke-width="0.7"/>
<circle cx="396.8" cy="899.22" r="1.35" fill="#fb9a99" stroke="#000" stroke-width="0.7"/>
<path d="M404.43 787.9V821.98" stroke="#444" stroke-width="0.8"/>
<rect x="401.13" y="803.42" width="6.6" height="18.55" fill="#6a3d9a" stroke="#222" stroke-width="0.8"/>
<path d="M401.13 812.42H407.73" stroke="#222" stroke-width="1.0"/>
<circle cx="404.43" cy="787.9" r="1.35" fill="#6a3d9a" stroke="#000" stroke-width="0.7"/>
<circle cx="404.43" cy="799.68" r="1.35" fill="#6a3d9a" stroke="#000" stroke-width="0.7"/>
<circle cx="404.43" cy="803.42" r="1.35" fill="#6a3d9a" stroke="#000" stroke-width="0.7"/>
<circle cx="404.43" cy="807.64" r="1.35" fill="#6a3d9a" stroke="#000" stroke-width="0.7"/>
<circle cx="404.43" cy="812.42" r="1.35" fill="#6a3d9a" stroke="#000" stroke-width="0.7"/>
<circle cx="404.43" cy="821.98" r="1.35" fill="#6a3d9a" stroke="#000" stroke-width="0.7"/>
<circle cx="404.43" cy="868.56" r="1.35" fill="#6a3d9a" stroke="#000" stroke-width="0.7"/>
<path d="M412.06 790.6V908.77" stroke="#444" stroke-width="0.8"/>
<rect x="408.76" y="849.85" width="6.6" height="48.57" fill="#cab2d6" stroke="#222" stroke-width="0.8"/>
<path d="M408.76 877.32H415.36" stroke="#222" stroke-width="1.0"/>
<circle cx="412.06" cy="790.6" r="1.35" fill="#cab2d6" stroke="#000" stroke-width="0.7"/>
<circle cx="412.06" cy="840.85" r="1.35" fill="#cab2d6" stroke="#000" stroke-width="0.7"/>
<circle cx="412.06" cy="849.85" r="1.35" fill="#cab2d6" stroke="#000" stroke-width="0.7"/>
<circle cx="412.06" cy="857.81" r="1.35" fill="#cab2d6" stroke="#000" stroke-width="0.7"/>
<circle cx="412.06" cy="877.32" r="1.35" fill="#cab2d6" stroke="#000" stroke-width="0.7"/>
<circle cx="412.06" cy="895.24" r="1.35" fill="#cab2d6" stroke="#000" stroke-width="0.7"/>
<circle cx="412.06" cy="898.42" r="1.35" fill="#cab2d6" stroke="#000" stroke-width="0.7"/>
<circle cx="412.06" cy="907.18" r="1.35" fill="#cab2d6" stroke="#000" stroke-width="0.7"/>
<circle cx="412.06" cy="908.77" r="1.35" fill="#cab2d6" stroke="#000" stroke-width="0.7"/>
<path d="M419.69 774.2V828.35" stroke="#444" stroke-width="0.8"/>
<rect x="416.39" y="783.28" width="6.6" height="23.33" fill="#ffd700" stroke="#222" stroke-width="0.8"/>
<path d="M416.39 793.31H422.99" stroke="#222" stroke-width="1.0"/>
<circle cx="419.69" cy="774.2" r="1.35" fill="#ffd700" stroke="#000" stroke-width="0.7"/>
<circle cx="419.69" cy="778.18" r="1.35" fill="#ffd700" stroke="#000" stroke-width="0.7"/>
<circle cx="419.69" cy="783.28" r="1.35" fill="#ffd700" stroke="#000" stroke-width="0.7"/>
<circle cx="419.69" cy="789.33" r="1.35" fill="#ffd700" stroke="#000" stroke-width="0.7"/>
<circle cx="419.69" cy="793.31" r="1.35" fill="#ffd700" stroke="#000" stroke-width="0.7"/>
<circle cx="419.69" cy="802.07" r="1.35" fill="#ffd700" stroke="#000" stroke-width="0.7"/>
<circle cx="419.69" cy="806.61" r="1.35" fill="#ffd700" stroke="#000" stroke-width="0.7"/>
<circle cx="419.69" cy="828.35" r="1.35" fill="#ffd700" stroke="#000" stroke-width="0.7"/>
<circle cx="419.69" cy="849.53" r="1.35" fill="#ffd700" stroke="#000" stroke-width="0.7"/>
<path d="M427.32 774.2V868.16" stroke="#444" stroke-width="0.8"/>
<rect x="424.02" y="806.05" width="6.6" height="36.63" fill="#f8901f" stroke="#222" stroke-width="0.8"/>
<path d="M424.02 834.72H430.62" stroke="#222" stroke-width="1.0"/>
<circle cx="427.32" cy="774.2" r="1.35" fill="#f8901f" stroke="#000" stroke-width="0.7"/>
<circle cx="427.32" cy="789.33" r="1.35" fill="#f8901f" stroke="#000" stroke-width="0.7"/>
<circle cx="427.32" cy="806.05" r="1.35" fill="#f8901f" stroke="#000" stroke-width="0.7"/>
<circle cx="427.32" cy="807.64" r="1.35" fill="#f8901f" stroke="#000" stroke-width="0.7"/>
<circle cx="427.32" cy="831.53" r="1.35" fill="#f8901f" stroke="#000" stroke-width="0.7"/>
<circle cx="427.32" cy="834.72" r="1.35" fill="#f8901f" stroke="#000" stroke-width="0.7"/>
<circle cx="427.32" cy="837.9" r="1.35" fill="#f8901f" stroke="#000" stroke-width="0.7"/>
<circle cx="427.32" cy="842.68" r="1.35" fill="#f8901f" stroke="#000" stroke-width="0.7"/>
<circle cx="427.32" cy="868.16" r="1.35" fill="#f8901f" stroke="#000" stroke-width="0.7"/>
<path d="M434.95 808.84V837.11" stroke="#444" stroke-width="0.8"/>
<rect x="431.65" y="813.22" width="6.6" height="23.89" fill="#7a5539" stroke="#222" stroke-width="0.8"/>
<path d="M431.65 833.92H438.25" stroke="#222" stroke-width="1.0"/>
<circle cx="434.95" cy="711.29" r="1.35" fill="#7a5539" stroke="#000" stroke-width="0.7"/>
<circle cx="434.95" cy="808.84" r="1.35" fill="#7a5539" stroke="#000" stroke-width="0.7"/>
<circle cx="434.95" cy="813.22" r="1.35" fill="#7a5539" stroke="#000" stroke-width="0.7"/>
<circle cx="434.95" cy="815.61" r="1.35" fill="#7a5539" stroke="#000" stroke-width="0.7"/>
<circle cx="434.95" cy="831.53" r="1.35" fill="#7a5539" stroke="#000" stroke-width="0.7"/>
<circle cx="434.95" cy="833.92" r="1.35" fill="#7a5539" stroke="#000" stroke-width="0.7"/>
<circle cx="434.95" cy="837.11" r="1.35" fill="#7a5539" stroke="#000" stroke-width="0.7"/>
<circle cx="434.95" cy="896.03" r="1.35" fill="#7a5539" stroke="#000" stroke-width="0.7"/>
<path d="M442.58 763.85V801.27" stroke="#444" stroke-width="0.8"/>
<rect x="439.28" y="771.81" width="6.6" height="26.28" fill="#525252" stroke="#222" stroke-width="0.8"/>
<path d="M439.28 788.53H445.88" stroke="#222" stroke-width="1.0"/>
<circle cx="442.58" cy="763.85" r="1.35" fill="#525252" stroke="#000" stroke-width="0.7"/>
<circle cx="442.58" cy="767.03" r="1.35" fill="#525252" stroke="#000" stroke-width="0.7"/>
<circle cx="442.58" cy="771.81" r="1.35" fill="#525252" stroke="#000" stroke-width="0.7"/>
<circle cx="442.58" cy="786.14" r="1.35" fill="#525252" stroke="#000" stroke-width="0.7"/>
<circle cx="442.58" cy="788.53" r="1.35" fill="#525252" stroke="#000" stroke-width="0.7"/>
<circle cx="442.58" cy="790.92" r="1.35" fill="#525252" stroke="#000" stroke-width="0.7"/>
<circle cx="442.58" cy="798.09" r="1.35" fill="#525252" stroke="#000" stroke-width="0.7"/>
<circle cx="442.58" cy="801.27" r="1.35" fill="#525252" stroke="#000" stroke-width="0.7"/>
<path d="M75.5 695.9H471.4" stroke="#d2d2d2" stroke-width="1.3" fill="none"/>
<path d="M75.5 695.9V1038.4H471.4V695.9" stroke="#737373" stroke-width="0.95" fill="none"/>
<text x="71.5" y="719.27" font-size="8.8" fill="#262626" text-anchor="end">0.1</text>
<text x="71.5" y="798.9" font-size="8.8" fill="#262626" text-anchor="end">0.0</text>
<text x="71.5" y="878.53" font-size="8.8" fill="#262626" text-anchor="end">−0.1</text>
<text x="71.5" y="958.16" font-size="8.8" fill="#262626" text-anchor="end">−0.2</text>
<text x="71.5" y="1037.79" font-size="8.8" fill="#262626" text-anchor="end">−0.3</text>
<path d="M73.3 716.07H75.5M73.3 795.7H75.5M73.3 875.33H75.5M73.3 954.96H75.5M73.3 1034.59H75.5M149.6 1038.4V1040.6M273.2 1038.4V1040.6M396.8 1038.4V1040.6" stroke="#5e5e5e" stroke-width="0.9" fill="none"/>
<text x="149.6" y="1049" font-size="9.3" fill="#1a1a1a" text-anchor="middle">FoundationOne</text>
<text x="273.2" y="1049" font-size="9.3" fill="#1a1a1a" text-anchor="middle">Guardant</text>
<text x="396.8" y="1049" font-size="9.3" fill="#1a1a1a" text-anchor="middle">Tempus</text>
<text x="273.3" y="1060.7" font-size="10.6" fill="#000" text-anchor="middle">Gene Panel</text>
<text transform="translate(49.5 867.0) rotate(-90)" font-size="10.8" fill="#000" text-anchor="middle">Change in median AUROC</text>
<text x="483.8" y="792.5" font-size="10.6" fill="#000">Feature</text>
<path d="M488.7 800.8V810" stroke="#333" stroke-width="0.6"/>
<rect x="484" y="802.5" width="9.4" height="5.8" fill="#20692f" stroke="#333" stroke-width="0.6"/>
<path d="M484 805.4H493.4" stroke="#222" stroke-width="0.8"/>
<circle cx="488.7" cy="805.4" r="1.1" fill="#20692f" stroke="#111" stroke-width="0.5"/>
<text x="500" y="808.7" font-size="9.42" fill="#000">All Exons Depth</text>
<path d="M488.7 812.4V821.6" stroke="#333" stroke-width="0.6"/>
<rect x="484" y="814.1" width="9.4" height="5.8" fill="#33a047" stroke="#333" stroke-width="0.6"/>
<path d="M484 817H493.4" stroke="#222" stroke-width="0.8"/>
<circle cx="488.7" cy="817" r="1.1" fill="#33a047" stroke="#111" stroke-width="0.5"/>
<text x="500" y="820.3" font-size="9.42" fill="#000">Full Gene Depth</text>
<path d="M488.7 824V833.2" stroke="#333" stroke-width="0.6"/>
<rect x="484" y="825.7" width="9.4" height="5.8" fill="#b2df8a" stroke="#333" stroke-width="0.6"/>
<path d="M484 828.6H493.4" stroke="#222" stroke-width="0.8"/>
<circle cx="488.7" cy="828.6" r="1.1" fill="#b2df8a" stroke="#111" stroke-width="0.5"/>
<text x="500" y="831.9" font-size="9.42" fill="#000">E1 Depth</text>
<path d="M488.7 835.6V844.8" stroke="#333" stroke-width="0.6"/>
<rect x="484" y="837.3" width="9.4" height="5.8" fill="#1f78b4" stroke="#333" stroke-width="0.6"/>
<path d="M484 840.2H493.4" stroke="#222" stroke-width="0.8"/>
<circle cx="488.7" cy="840.2" r="1.1" fill="#1f78b4" stroke="#111" stroke-width="0.5"/>
<text x="500" y="843.5" font-size="9.42" fill="#000">All Exons SE</text>
<path d="M488.7 847.2V856.4" stroke="#333" stroke-width="0.6"/>
<rect x="484" y="848.9" width="9.4" height="5.8" fill="#a6cee3" stroke="#333" stroke-width="0.6"/>
<path d="M484 851.8H493.4" stroke="#222" stroke-width="0.8"/>
<circle cx="488.7" cy="851.8" r="1.1" fill="#a6cee3" stroke="#111" stroke-width="0.5"/>
<text x="500" y="855.1" font-size="9.42" fill="#000">E1 SE</text>
<path d="M488.7 858.8V868" stroke="#333" stroke-width="0.6"/>
<rect x="484" y="860.5" width="9.4" height="5.8" fill="#e31a1c" stroke="#333" stroke-width="0.6"/>
<path d="M484 863.4H493.4" stroke="#222" stroke-width="0.8"/>
<circle cx="488.7" cy="863.4" r="1.1" fill="#e31a1c" stroke="#111" stroke-width="0.5"/>
<text x="500" y="866.7" font-size="9.42" fill="#000">All Exons MDS</text>
<path d="M488.7 870.4V879.6" stroke="#333" stroke-width="0.6"/>
<rect x="484" y="872.1" width="9.4" height="5.8" fill="#fb9a99" stroke="#333" stroke-width="0.6"/>
<path d="M484 875H493.4" stroke="#222" stroke-width="0.8"/>
<circle cx="488.7" cy="875" r="1.1" fill="#fb9a99" stroke="#111" stroke-width="0.5"/>
<text x="500" y="878.3" font-size="9.42" fill="#000">E1 MDS</text>
<path d="M488.7 882V891.2" stroke="#333" stroke-width="0.6"/>
<rect x="484" y="883.7" width="9.4" height="5.8" fill="#6a3d9a" stroke="#333" stroke-width="0.6"/>
<path d="M484 886.6H493.4" stroke="#222" stroke-width="0.8"/>
<circle cx="488.7" cy="886.6" r="1.1" fill="#6a3d9a" stroke="#111" stroke-width="0.5"/>
<text x="500" y="889.9" font-size="9.42" fill="#000">All Exons Small Fragments</text>
<path d="M488.7 893.6V902.8" stroke="#333" stroke-width="0.6"/>
<rect x="484" y="895.3" width="9.4" height="5.8" fill="#cab2d6" stroke="#333" stroke-width="0.6"/>
<path d="M484 898.2H493.4" stroke="#222" stroke-width="0.8"/>
<circle cx="488.7" cy="898.2" r="1.1" fill="#cab2d6" stroke="#111" stroke-width="0.5"/>
<text x="500" y="901.5" font-size="9.42" fill="#000">E1 Small Fragments</text>
<path d="M488.7 905.2V914.4" stroke="#333" stroke-width="0.6"/>
<rect x="484" y="906.9" width="9.4" height="5.8" fill="#ffd700" stroke="#333" stroke-width="0.6"/>
<path d="M484 909.8H493.4" stroke="#222" stroke-width="0.8"/>
<circle cx="488.7" cy="909.8" r="1.1" fill="#ffd700" stroke="#111" stroke-width="0.5"/>
<text x="500" y="913.1" font-size="9.42" fill="#000">Fragment Bins</text>
<path d="M488.7 916.8V926" stroke="#333" stroke-width="0.6"/>
<rect x="484" y="918.5" width="9.4" height="5.8" fill="#f8901f" stroke="#333" stroke-width="0.6"/>
<path d="M484 921.4H493.4" stroke="#222" stroke-width="0.8"/>
<circle cx="488.7" cy="921.4" r="1.1" fill="#f8901f" stroke="#111" stroke-width="0.5"/>
<text x="500" y="924.7" font-size="9.42" fill="#000">TFBS Entropy</text>
<path d="M488.7 928.4V937.6" stroke="#333" stroke-width="0.6"/>
<rect x="484" y="930.1" width="9.4" height="5.8" fill="#7a5539" stroke="#333" stroke-width="0.6"/>
<path d="M484 933H493.4" stroke="#222" stroke-width="0.8"/>
<circle cx="488.7" cy="933" r="1.1" fill="#7a5539" stroke="#111" stroke-width="0.5"/>
<text x="500" y="936.3" font-size="9.42" fill="#000">ATAC Entropy</text>
<path d="M488.7 940V949.2" stroke="#333" stroke-width="0.6"/>
<rect x="484" y="941.7" width="9.4" height="5.8" fill="#525252" stroke="#333" stroke-width="0.6"/>
<path d="M484 944.6H493.4" stroke="#222" stroke-width="0.8"/>
<circle cx="488.7" cy="944.6" r="1.1" fill="#525252" stroke="#111" stroke-width="0.5"/>
<text x="500" y="947.9" font-size="9.42" fill="#000">All Combined</text>
</svg>
</body></html>
